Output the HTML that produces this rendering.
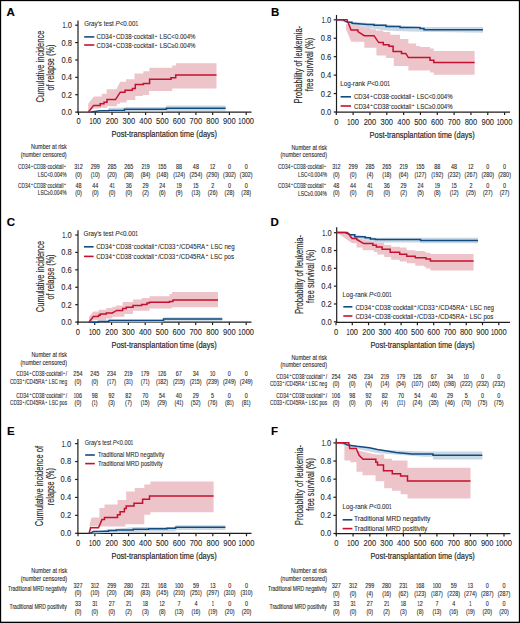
<!DOCTYPE html>
<html><head><meta charset="utf-8"><style>
html,body{margin:0;padding:0;background:#fff;}
svg{display:block;}
text{font-family:"Liberation Sans", sans-serif;}
</style></head><body>
<svg width="520" height="623" viewBox="0 0 520 623">
<rect x="0" y="0" width="520" height="623" fill="#fff"/>
<line x1="78.00" y1="20.40" x2="78.00" y2="112.80" stroke="#1e1e1e" stroke-width="1.2"/>
<line x1="77.40" y1="112.20" x2="251.50" y2="112.20" stroke="#1e1e1e" stroke-width="1.2"/>
<line x1="75.20" y1="112.10" x2="78.00" y2="112.10" stroke="#1e1e1e" stroke-width="1.2"/>
<g fill="#2a2a2a" stroke="#2a2a2a" stroke-width="0.1"><text x="61.49" y="115.04" font-size="8.40" textLength="10.51" lengthAdjust="spacingAndGlyphs" xml:space="preserve" style="">0.0</text></g>
<line x1="75.20" y1="94.72" x2="78.00" y2="94.72" stroke="#1e1e1e" stroke-width="1.2"/>
<g fill="#2a2a2a" stroke="#2a2a2a" stroke-width="0.1"><text x="61.49" y="97.66" font-size="8.40" textLength="10.51" lengthAdjust="spacingAndGlyphs" xml:space="preserve" style="">0.2</text></g>
<line x1="75.20" y1="77.34" x2="78.00" y2="77.34" stroke="#1e1e1e" stroke-width="1.2"/>
<g fill="#2a2a2a" stroke="#2a2a2a" stroke-width="0.1"><text x="61.49" y="80.28" font-size="8.40" textLength="10.51" lengthAdjust="spacingAndGlyphs" xml:space="preserve" style="">0.4</text></g>
<line x1="75.20" y1="59.96" x2="78.00" y2="59.96" stroke="#1e1e1e" stroke-width="1.2"/>
<g fill="#2a2a2a" stroke="#2a2a2a" stroke-width="0.1"><text x="61.49" y="62.90" font-size="8.40" textLength="10.51" lengthAdjust="spacingAndGlyphs" xml:space="preserve" style="">0.6</text></g>
<line x1="75.20" y1="42.58" x2="78.00" y2="42.58" stroke="#1e1e1e" stroke-width="1.2"/>
<g fill="#2a2a2a" stroke="#2a2a2a" stroke-width="0.1"><text x="61.49" y="45.52" font-size="8.40" textLength="10.51" lengthAdjust="spacingAndGlyphs" xml:space="preserve" style="">0.8</text></g>
<line x1="75.20" y1="25.20" x2="78.00" y2="25.20" stroke="#1e1e1e" stroke-width="1.2"/>
<g fill="#2a2a2a" stroke="#2a2a2a" stroke-width="0.1"><text x="62.54" y="28.14" font-size="8.40" textLength="3.15" lengthAdjust="spacingAndGlyphs" xml:space="preserve" style="">1</text><text x="65.70" y="28.14" font-size="8.40" textLength="6.30" lengthAdjust="spacingAndGlyphs" xml:space="preserve" style="">.0</text></g>
<line x1="78.50" y1="112.20" x2="78.50" y2="115.00" stroke="#1e1e1e" stroke-width="1.2"/>
<g fill="#2a2a2a" stroke="#2a2a2a" stroke-width="0.1"><text x="76.40" y="123.60" font-size="8.40" textLength="4.20" lengthAdjust="spacingAndGlyphs" xml:space="preserve" style="">0</text></g>
<line x1="95.27" y1="112.20" x2="95.27" y2="115.00" stroke="#1e1e1e" stroke-width="1.2"/>
<g fill="#2a2a2a" stroke="#2a2a2a" stroke-width="0.1"><text x="89.49" y="123.60" font-size="8.40" textLength="3.15" lengthAdjust="spacingAndGlyphs" xml:space="preserve" style="">1</text><text x="92.64" y="123.60" font-size="8.40" textLength="8.41" lengthAdjust="spacingAndGlyphs" xml:space="preserve" style="">00</text></g>
<line x1="112.04" y1="112.20" x2="112.04" y2="115.00" stroke="#1e1e1e" stroke-width="1.2"/>
<g fill="#2a2a2a" stroke="#2a2a2a" stroke-width="0.1"><text x="105.73" y="123.60" font-size="8.40" textLength="12.61" lengthAdjust="spacingAndGlyphs" xml:space="preserve" style="">200</text></g>
<line x1="128.81" y1="112.20" x2="128.81" y2="115.00" stroke="#1e1e1e" stroke-width="1.2"/>
<g fill="#2a2a2a" stroke="#2a2a2a" stroke-width="0.1"><text x="122.50" y="123.60" font-size="8.40" textLength="12.61" lengthAdjust="spacingAndGlyphs" xml:space="preserve" style="">300</text></g>
<line x1="145.58" y1="112.20" x2="145.58" y2="115.00" stroke="#1e1e1e" stroke-width="1.2"/>
<g fill="#2a2a2a" stroke="#2a2a2a" stroke-width="0.1"><text x="139.27" y="123.60" font-size="8.40" textLength="12.61" lengthAdjust="spacingAndGlyphs" xml:space="preserve" style="">400</text></g>
<line x1="162.35" y1="112.20" x2="162.35" y2="115.00" stroke="#1e1e1e" stroke-width="1.2"/>
<g fill="#2a2a2a" stroke="#2a2a2a" stroke-width="0.1"><text x="156.04" y="123.60" font-size="8.40" textLength="12.61" lengthAdjust="spacingAndGlyphs" xml:space="preserve" style="">500</text></g>
<line x1="179.12" y1="112.20" x2="179.12" y2="115.00" stroke="#1e1e1e" stroke-width="1.2"/>
<g fill="#2a2a2a" stroke="#2a2a2a" stroke-width="0.1"><text x="172.81" y="123.60" font-size="8.40" textLength="12.61" lengthAdjust="spacingAndGlyphs" xml:space="preserve" style="">600</text></g>
<line x1="195.89" y1="112.20" x2="195.89" y2="115.00" stroke="#1e1e1e" stroke-width="1.2"/>
<g fill="#2a2a2a" stroke="#2a2a2a" stroke-width="0.1"><text x="189.58" y="123.60" font-size="8.40" textLength="12.61" lengthAdjust="spacingAndGlyphs" xml:space="preserve" style="">700</text></g>
<line x1="212.66" y1="112.20" x2="212.66" y2="115.00" stroke="#1e1e1e" stroke-width="1.2"/>
<g fill="#2a2a2a" stroke="#2a2a2a" stroke-width="0.1"><text x="206.35" y="123.60" font-size="8.40" textLength="12.61" lengthAdjust="spacingAndGlyphs" xml:space="preserve" style="">800</text></g>
<line x1="229.43" y1="112.20" x2="229.43" y2="115.00" stroke="#1e1e1e" stroke-width="1.2"/>
<g fill="#2a2a2a" stroke="#2a2a2a" stroke-width="0.1"><text x="223.12" y="123.60" font-size="8.40" textLength="12.61" lengthAdjust="spacingAndGlyphs" xml:space="preserve" style="">900</text></g>
<line x1="246.20" y1="112.20" x2="246.20" y2="115.00" stroke="#1e1e1e" stroke-width="1.2"/>
<g fill="#2a2a2a" stroke="#2a2a2a" stroke-width="0.1"><text x="238.32" y="123.60" font-size="8.40" textLength="3.15" lengthAdjust="spacingAndGlyphs" xml:space="preserve" style="">1</text><text x="241.47" y="123.60" font-size="8.40" textLength="12.61" lengthAdjust="spacingAndGlyphs" xml:space="preserve" style="">000</text></g>
<g fill="#000" stroke="#000" stroke-width="0.15" font-weight="bold"><text x="6.60" y="16.30" font-size="11.50" textLength="8.30" lengthAdjust="spacingAndGlyphs" xml:space="preserve" style="">A</text></g>
<g fill="#2a2a2a" stroke="#2a2a2a" stroke-width="0.15" transform="translate(43.70,66.50) rotate(-90)"><text x="-36.00" y="0.00" font-size="10.40" textLength="72.00" lengthAdjust="spacingAndGlyphs" xml:space="preserve">Cumulative incidence</text></g>
<g fill="#2a2a2a" stroke="#2a2a2a" stroke-width="0.15" transform="translate(54.00,67.50) rotate(-90)"><text x="-23.00" y="0.00" font-size="10.40" textLength="46.00" lengthAdjust="spacingAndGlyphs" xml:space="preserve">of relapse (%)</text></g>
<g fill="#2a2a2a" stroke="#2a2a2a" stroke-width="0.2"><text x="111.50" y="136.80" font-size="9.00" textLength="105.50" lengthAdjust="spacingAndGlyphs" xml:space="preserve" style="">Post-transplantation time (days)</text></g>
<path d="M88.20,111.80 L88.20,103.80 L94.00,96.50 L101.70,96.50 L101.70,93.80 L106.70,93.80 L106.70,89.20 L116.30,89.20 L116.30,89.20 L120.20,81.80 L126.00,81.80 L126.00,79.30 L134.50,79.30 L134.50,73.60 L143.40,73.60 L143.40,71.30 L149.40,71.30 L149.40,67.80 L172.20,67.80 L172.20,65.50 L176.00,65.50 L176.00,63.20 L216.50,63.20 L216.50,63.20 L216.50,88.60 L216.50,88.60 L172.20,88.60 L172.20,90.90 L149.10,90.90 L149.10,94.90 L142.80,94.90 L142.80,96.00 L135.30,96.00 L135.30,100.10 L126.70,100.10 L126.70,102.40 L120.00,102.40 L120.00,103.80 L117.00,103.80 L117.00,106.20 L107.00,106.20 L107.00,107.70 L100.50,107.70 L100.50,108.50 L94.00,108.50 L88.20,111.80 Z" fill="#edc4ca" stroke="none"/>
<path d="M90.80,112.00 L100.00,110.20 L108.60,110.20 L108.60,107.80 L124.40,107.80 L124.40,107.00 L166.40,107.00 L166.40,105.60 L225.60,105.60 L225.60,105.60 L225.60,110.60 L225.60,110.80 L166.40,110.80 L166.40,111.60 L124.40,111.60 L124.40,112.00 L90.80,112.00 Z" fill="#c8d8e5" stroke="none"/>
<path d="M90.80,112.00 L100.00,110.80 H108.60 V110.40 H124.40 V109.20 H166.40 V108.30 H225.60 V108.30" fill="none" stroke="#124b80" stroke-width="1.5" stroke-linejoin="miter"/>
<path d="M88.30,112.20 L93.60,105.40 H100.20 V103.80 H104.00 V102.30 H107.00 V99.60 H115.50 V99.60 L120.30,92.20 H125.00 V90.30 H132.40 V88.60 H135.30 V84.50 H143.40 V83.40 H149.60 V79.20 H171.00 V77.80 H175.70 V75.00 H216.50 V75.00" fill="none" stroke="#c5112f" stroke-width="1.5" stroke-linejoin="miter"/>
<g fill="#2a2a2a" stroke="#2a2a2a" stroke-width="0.08"><text x="84.20" y="26.20" font-size="6.40" textLength="31.29" lengthAdjust="spacingAndGlyphs" xml:space="preserve" style="">Gray's test </text><text x="115.49" y="26.20" font-size="6.40" textLength="4.15" lengthAdjust="spacingAndGlyphs" xml:space="preserve" style="font-style:italic;">P</text><text x="119.65" y="26.20" font-size="6.40" textLength="15.76" lengthAdjust="spacingAndGlyphs" xml:space="preserve" style="">&lt;0.00</text><text x="135.40" y="26.20" font-size="6.40" textLength="2.60" lengthAdjust="spacingAndGlyphs" xml:space="preserve" style="">1</text></g>
<line x1="84.20" y1="36.90" x2="94.30" y2="36.90" stroke="#124b80" stroke-width="1.6"/>
<g fill="#2a2a2a" stroke="#2a2a2a" stroke-width="0.08"><text x="96.60" y="39.40" font-size="6.40" textLength="15.53" lengthAdjust="spacingAndGlyphs" xml:space="preserve" style="">CD34</text><text x="112.86" y="36.84" font-size="4.35" textLength="2.41" lengthAdjust="spacingAndGlyphs" xml:space="preserve" style="">+</text><text x="115.99" y="39.40" font-size="6.40" textLength="15.53" lengthAdjust="spacingAndGlyphs" xml:space="preserve" style="">CD38</text><text x="131.94" y="36.84" font-size="4.35" textLength="1.38" lengthAdjust="spacingAndGlyphs" xml:space="preserve" style="">-</text><text x="133.72" y="39.40" font-size="6.40" textLength="20.26" lengthAdjust="spacingAndGlyphs" xml:space="preserve" style="">cocktail</text><text x="154.71" y="36.84" font-size="4.35" textLength="2.41" lengthAdjust="spacingAndGlyphs" xml:space="preserve" style="">+</text><text x="157.84" y="39.40" font-size="6.40" textLength="37.66" lengthAdjust="spacingAndGlyphs" xml:space="preserve" style=""> LSC&lt;0.004%</text></g>
<line x1="84.20" y1="45.00" x2="94.30" y2="45.00" stroke="#c5112f" stroke-width="1.6"/>
<g fill="#2a2a2a" stroke="#2a2a2a" stroke-width="0.08"><text x="96.60" y="48.40" font-size="6.40" textLength="15.57" lengthAdjust="spacingAndGlyphs" xml:space="preserve" style="">CD34</text><text x="112.89" y="45.84" font-size="4.35" textLength="2.42" lengthAdjust="spacingAndGlyphs" xml:space="preserve" style="">+</text><text x="116.03" y="48.40" font-size="6.40" textLength="15.57" lengthAdjust="spacingAndGlyphs" xml:space="preserve" style="">CD38</text><text x="132.01" y="45.84" font-size="4.35" textLength="1.38" lengthAdjust="spacingAndGlyphs" xml:space="preserve" style="">-</text><text x="133.81" y="48.40" font-size="6.40" textLength="20.30" lengthAdjust="spacingAndGlyphs" xml:space="preserve" style="">cocktail</text><text x="154.83" y="45.84" font-size="4.35" textLength="2.42" lengthAdjust="spacingAndGlyphs" xml:space="preserve" style="">+</text><text x="157.97" y="48.40" font-size="6.40" textLength="37.53" lengthAdjust="spacingAndGlyphs" xml:space="preserve" style=""> LSC≥0.004%</text></g>
<g fill="#2a2a2a" stroke="#2a2a2a" stroke-width="0.1"><text x="31.10" y="149.30" font-size="6.40" textLength="35.60" lengthAdjust="spacingAndGlyphs" xml:space="preserve" style="">Number at risk</text></g>
<g fill="#2a2a2a" stroke="#2a2a2a" stroke-width="0.1"><text x="20.70" y="156.60" font-size="6.40" textLength="46.00" lengthAdjust="spacingAndGlyphs" xml:space="preserve" style="">(number censored)</text></g>
<g fill="#2a2a2a" stroke="#2a2a2a" stroke-width="0.1"><text x="18.10" y="169.20" font-size="6.40" textLength="12.27" lengthAdjust="spacingAndGlyphs" xml:space="preserve" style="">CD34</text><text x="30.95" y="166.64" font-size="4.35" textLength="1.91" lengthAdjust="spacingAndGlyphs" xml:space="preserve" style="">+</text><text x="33.43" y="169.20" font-size="6.40" textLength="12.27" lengthAdjust="spacingAndGlyphs" xml:space="preserve" style="">CD38</text><text x="46.03" y="166.64" font-size="4.35" textLength="1.09" lengthAdjust="spacingAndGlyphs" xml:space="preserve" style="">-</text><text x="47.44" y="169.20" font-size="6.40" textLength="16.01" lengthAdjust="spacingAndGlyphs" xml:space="preserve" style="">cocktail</text><text x="64.02" y="166.64" font-size="4.35" textLength="1.91" lengthAdjust="spacingAndGlyphs" xml:space="preserve" style="">+</text></g>
<g fill="#2a2a2a" stroke="#2a2a2a" stroke-width="0.1"><text x="37.70" y="176.60" font-size="6.40" textLength="29.00" lengthAdjust="spacingAndGlyphs" xml:space="preserve" style="">LSC&lt;0.004%</text></g>
<g fill="#2a2a2a" stroke="#2a2a2a" stroke-width="0.1"><text x="18.10" y="187.70" font-size="6.40" textLength="12.27" lengthAdjust="spacingAndGlyphs" xml:space="preserve" style="">CD34</text><text x="30.95" y="185.14" font-size="4.35" textLength="1.91" lengthAdjust="spacingAndGlyphs" xml:space="preserve" style="">+</text><text x="33.43" y="187.70" font-size="6.40" textLength="12.27" lengthAdjust="spacingAndGlyphs" xml:space="preserve" style="">CD38</text><text x="46.03" y="185.14" font-size="4.35" textLength="1.09" lengthAdjust="spacingAndGlyphs" xml:space="preserve" style="">-</text><text x="47.44" y="187.70" font-size="6.40" textLength="16.01" lengthAdjust="spacingAndGlyphs" xml:space="preserve" style="">cocktail</text><text x="64.02" y="185.14" font-size="4.35" textLength="1.91" lengthAdjust="spacingAndGlyphs" xml:space="preserve" style="">+</text></g>
<g fill="#2a2a2a" stroke="#2a2a2a" stroke-width="0.1"><text x="37.70" y="195.20" font-size="6.40" textLength="29.00" lengthAdjust="spacingAndGlyphs" xml:space="preserve" style="">LSC≥0.004%</text></g>
<g fill="#2a2a2a" stroke="#2a2a2a" stroke-width="0.1"><text x="74.34" y="169.20" font-size="6.40" textLength="3.03" lengthAdjust="spacingAndGlyphs" xml:space="preserve" style="">3</text><text x="77.37" y="169.20" font-size="6.40" textLength="2.27" lengthAdjust="spacingAndGlyphs" xml:space="preserve" style="">1</text><text x="79.63" y="169.20" font-size="6.40" textLength="3.03" lengthAdjust="spacingAndGlyphs" xml:space="preserve" style="">2</text></g>
<g fill="#2a2a2a" stroke="#2a2a2a" stroke-width="0.1"><text x="90.73" y="169.20" font-size="6.40" textLength="9.08" lengthAdjust="spacingAndGlyphs" xml:space="preserve" style="">299</text></g>
<g fill="#2a2a2a" stroke="#2a2a2a" stroke-width="0.1"><text x="107.50" y="169.20" font-size="6.40" textLength="9.08" lengthAdjust="spacingAndGlyphs" xml:space="preserve" style="">285</text></g>
<g fill="#2a2a2a" stroke="#2a2a2a" stroke-width="0.1"><text x="124.27" y="169.20" font-size="6.40" textLength="9.08" lengthAdjust="spacingAndGlyphs" xml:space="preserve" style="">265</text></g>
<g fill="#2a2a2a" stroke="#2a2a2a" stroke-width="0.1"><text x="141.42" y="169.20" font-size="6.40" textLength="3.03" lengthAdjust="spacingAndGlyphs" xml:space="preserve" style="">2</text><text x="144.45" y="169.20" font-size="6.40" textLength="2.27" lengthAdjust="spacingAndGlyphs" xml:space="preserve" style="">1</text><text x="146.71" y="169.20" font-size="6.40" textLength="3.03" lengthAdjust="spacingAndGlyphs" xml:space="preserve" style="">9</text></g>
<g fill="#2a2a2a" stroke="#2a2a2a" stroke-width="0.1"><text x="158.19" y="169.20" font-size="6.40" textLength="2.27" lengthAdjust="spacingAndGlyphs" xml:space="preserve" style="">1</text><text x="160.46" y="169.20" font-size="6.40" textLength="6.05" lengthAdjust="spacingAndGlyphs" xml:space="preserve" style="">55</text></g>
<g fill="#2a2a2a" stroke="#2a2a2a" stroke-width="0.1"><text x="176.09" y="169.20" font-size="6.40" textLength="6.05" lengthAdjust="spacingAndGlyphs" xml:space="preserve" style="">88</text></g>
<g fill="#2a2a2a" stroke="#2a2a2a" stroke-width="0.1"><text x="192.86" y="169.20" font-size="6.40" textLength="6.05" lengthAdjust="spacingAndGlyphs" xml:space="preserve" style="">48</text></g>
<g fill="#2a2a2a" stroke="#2a2a2a" stroke-width="0.1"><text x="210.01" y="169.20" font-size="6.40" textLength="2.27" lengthAdjust="spacingAndGlyphs" xml:space="preserve" style="">1</text><text x="212.28" y="169.20" font-size="6.40" textLength="3.03" lengthAdjust="spacingAndGlyphs" xml:space="preserve" style="">2</text></g>
<g fill="#2a2a2a" stroke="#2a2a2a" stroke-width="0.1"><text x="227.92" y="169.20" font-size="6.40" textLength="3.03" lengthAdjust="spacingAndGlyphs" xml:space="preserve" style="">0</text></g>
<g fill="#2a2a2a" stroke="#2a2a2a" stroke-width="0.1"><text x="244.69" y="169.20" font-size="6.40" textLength="3.03" lengthAdjust="spacingAndGlyphs" xml:space="preserve" style="">0</text></g>
<g fill="#2a2a2a" stroke="#2a2a2a" stroke-width="0.1"><text x="75.18" y="176.50" font-size="6.40" textLength="6.65" lengthAdjust="spacingAndGlyphs" xml:space="preserve" style="">(0)</text></g>
<g fill="#2a2a2a" stroke="#2a2a2a" stroke-width="0.1"><text x="90.81" y="176.50" font-size="6.40" textLength="1.81" lengthAdjust="spacingAndGlyphs" xml:space="preserve" style="">(</text><text x="92.62" y="176.50" font-size="6.40" textLength="2.27" lengthAdjust="spacingAndGlyphs" xml:space="preserve" style="">1</text><text x="94.89" y="176.50" font-size="6.40" textLength="4.84" lengthAdjust="spacingAndGlyphs" xml:space="preserve" style="">0)</text></g>
<g fill="#2a2a2a" stroke="#2a2a2a" stroke-width="0.1"><text x="107.20" y="176.50" font-size="6.40" textLength="9.67" lengthAdjust="spacingAndGlyphs" xml:space="preserve" style="">(20)</text></g>
<g fill="#2a2a2a" stroke="#2a2a2a" stroke-width="0.1"><text x="123.97" y="176.50" font-size="6.40" textLength="9.67" lengthAdjust="spacingAndGlyphs" xml:space="preserve" style="">(38)</text></g>
<g fill="#2a2a2a" stroke="#2a2a2a" stroke-width="0.1"><text x="140.74" y="176.50" font-size="6.40" textLength="9.67" lengthAdjust="spacingAndGlyphs" xml:space="preserve" style="">(84)</text></g>
<g fill="#2a2a2a" stroke="#2a2a2a" stroke-width="0.1"><text x="156.38" y="176.50" font-size="6.40" textLength="1.81" lengthAdjust="spacingAndGlyphs" xml:space="preserve" style="">(</text><text x="158.19" y="176.50" font-size="6.40" textLength="2.27" lengthAdjust="spacingAndGlyphs" xml:space="preserve" style="">1</text><text x="160.46" y="176.50" font-size="6.40" textLength="7.86" lengthAdjust="spacingAndGlyphs" xml:space="preserve" style="">48)</text></g>
<g fill="#2a2a2a" stroke="#2a2a2a" stroke-width="0.1"><text x="173.15" y="176.50" font-size="6.40" textLength="1.81" lengthAdjust="spacingAndGlyphs" xml:space="preserve" style="">(</text><text x="174.96" y="176.50" font-size="6.40" textLength="2.27" lengthAdjust="spacingAndGlyphs" xml:space="preserve" style="">1</text><text x="177.23" y="176.50" font-size="6.40" textLength="7.86" lengthAdjust="spacingAndGlyphs" xml:space="preserve" style="">24)</text></g>
<g fill="#2a2a2a" stroke="#2a2a2a" stroke-width="0.1"><text x="189.54" y="176.50" font-size="6.40" textLength="12.70" lengthAdjust="spacingAndGlyphs" xml:space="preserve" style="">(254)</text></g>
<g fill="#2a2a2a" stroke="#2a2a2a" stroke-width="0.1"><text x="206.31" y="176.50" font-size="6.40" textLength="12.70" lengthAdjust="spacingAndGlyphs" xml:space="preserve" style="">(290)</text></g>
<g fill="#2a2a2a" stroke="#2a2a2a" stroke-width="0.1"><text x="223.08" y="176.50" font-size="6.40" textLength="12.70" lengthAdjust="spacingAndGlyphs" xml:space="preserve" style="">(302)</text></g>
<g fill="#2a2a2a" stroke="#2a2a2a" stroke-width="0.1"><text x="239.85" y="176.50" font-size="6.40" textLength="12.70" lengthAdjust="spacingAndGlyphs" xml:space="preserve" style="">(302)</text></g>
<g fill="#2a2a2a" stroke="#2a2a2a" stroke-width="0.1"><text x="75.47" y="187.70" font-size="6.40" textLength="6.05" lengthAdjust="spacingAndGlyphs" xml:space="preserve" style="">48</text></g>
<g fill="#2a2a2a" stroke="#2a2a2a" stroke-width="0.1"><text x="92.24" y="187.70" font-size="6.40" textLength="6.05" lengthAdjust="spacingAndGlyphs" xml:space="preserve" style="">44</text></g>
<g fill="#2a2a2a" stroke="#2a2a2a" stroke-width="0.1"><text x="109.39" y="187.70" font-size="6.40" textLength="3.03" lengthAdjust="spacingAndGlyphs" xml:space="preserve" style="">4</text><text x="112.42" y="187.70" font-size="6.40" textLength="2.27" lengthAdjust="spacingAndGlyphs" xml:space="preserve" style="">1</text></g>
<g fill="#2a2a2a" stroke="#2a2a2a" stroke-width="0.1"><text x="125.78" y="187.70" font-size="6.40" textLength="6.05" lengthAdjust="spacingAndGlyphs" xml:space="preserve" style="">36</text></g>
<g fill="#2a2a2a" stroke="#2a2a2a" stroke-width="0.1"><text x="142.55" y="187.70" font-size="6.40" textLength="6.05" lengthAdjust="spacingAndGlyphs" xml:space="preserve" style="">29</text></g>
<g fill="#2a2a2a" stroke="#2a2a2a" stroke-width="0.1"><text x="159.32" y="187.70" font-size="6.40" textLength="6.05" lengthAdjust="spacingAndGlyphs" xml:space="preserve" style="">24</text></g>
<g fill="#2a2a2a" stroke="#2a2a2a" stroke-width="0.1"><text x="176.47" y="187.70" font-size="6.40" textLength="2.27" lengthAdjust="spacingAndGlyphs" xml:space="preserve" style="">1</text><text x="178.74" y="187.70" font-size="6.40" textLength="3.03" lengthAdjust="spacingAndGlyphs" xml:space="preserve" style="">9</text></g>
<g fill="#2a2a2a" stroke="#2a2a2a" stroke-width="0.1"><text x="193.24" y="187.70" font-size="6.40" textLength="2.27" lengthAdjust="spacingAndGlyphs" xml:space="preserve" style="">1</text><text x="195.51" y="187.70" font-size="6.40" textLength="3.03" lengthAdjust="spacingAndGlyphs" xml:space="preserve" style="">5</text></g>
<g fill="#2a2a2a" stroke="#2a2a2a" stroke-width="0.1"><text x="211.15" y="187.70" font-size="6.40" textLength="3.03" lengthAdjust="spacingAndGlyphs" xml:space="preserve" style="">2</text></g>
<g fill="#2a2a2a" stroke="#2a2a2a" stroke-width="0.1"><text x="227.92" y="187.70" font-size="6.40" textLength="3.03" lengthAdjust="spacingAndGlyphs" xml:space="preserve" style="">0</text></g>
<g fill="#2a2a2a" stroke="#2a2a2a" stroke-width="0.1"><text x="244.69" y="187.70" font-size="6.40" textLength="3.03" lengthAdjust="spacingAndGlyphs" xml:space="preserve" style="">0</text></g>
<g fill="#2a2a2a" stroke="#2a2a2a" stroke-width="0.1"><text x="75.18" y="195.00" font-size="6.40" textLength="6.65" lengthAdjust="spacingAndGlyphs" xml:space="preserve" style="">(0)</text></g>
<g fill="#2a2a2a" stroke="#2a2a2a" stroke-width="0.1"><text x="91.95" y="195.00" font-size="6.40" textLength="6.65" lengthAdjust="spacingAndGlyphs" xml:space="preserve" style="">(0)</text></g>
<g fill="#2a2a2a" stroke="#2a2a2a" stroke-width="0.1"><text x="108.72" y="195.00" font-size="6.40" textLength="6.65" lengthAdjust="spacingAndGlyphs" xml:space="preserve" style="">(0)</text></g>
<g fill="#2a2a2a" stroke="#2a2a2a" stroke-width="0.1"><text x="125.49" y="195.00" font-size="6.40" textLength="6.65" lengthAdjust="spacingAndGlyphs" xml:space="preserve" style="">(0)</text></g>
<g fill="#2a2a2a" stroke="#2a2a2a" stroke-width="0.1"><text x="142.26" y="195.00" font-size="6.40" textLength="6.65" lengthAdjust="spacingAndGlyphs" xml:space="preserve" style="">(2)</text></g>
<g fill="#2a2a2a" stroke="#2a2a2a" stroke-width="0.1"><text x="159.03" y="195.00" font-size="6.40" textLength="6.65" lengthAdjust="spacingAndGlyphs" xml:space="preserve" style="">(6)</text></g>
<g fill="#2a2a2a" stroke="#2a2a2a" stroke-width="0.1"><text x="175.80" y="195.00" font-size="6.40" textLength="6.65" lengthAdjust="spacingAndGlyphs" xml:space="preserve" style="">(9)</text></g>
<g fill="#2a2a2a" stroke="#2a2a2a" stroke-width="0.1"><text x="191.43" y="195.00" font-size="6.40" textLength="1.81" lengthAdjust="spacingAndGlyphs" xml:space="preserve" style="">(</text><text x="193.24" y="195.00" font-size="6.40" textLength="2.27" lengthAdjust="spacingAndGlyphs" xml:space="preserve" style="">1</text><text x="195.51" y="195.00" font-size="6.40" textLength="4.84" lengthAdjust="spacingAndGlyphs" xml:space="preserve" style="">3)</text></g>
<g fill="#2a2a2a" stroke="#2a2a2a" stroke-width="0.1"><text x="207.82" y="195.00" font-size="6.40" textLength="9.67" lengthAdjust="spacingAndGlyphs" xml:space="preserve" style="">(26)</text></g>
<g fill="#2a2a2a" stroke="#2a2a2a" stroke-width="0.1"><text x="224.59" y="195.00" font-size="6.40" textLength="9.67" lengthAdjust="spacingAndGlyphs" xml:space="preserve" style="">(28)</text></g>
<g fill="#2a2a2a" stroke="#2a2a2a" stroke-width="0.1"><text x="241.36" y="195.00" font-size="6.40" textLength="9.67" lengthAdjust="spacingAndGlyphs" xml:space="preserve" style="">(28)</text></g>
<line x1="336.50" y1="15.00" x2="336.50" y2="112.80" stroke="#1e1e1e" stroke-width="1.2"/>
<line x1="335.90" y1="112.20" x2="510.00" y2="112.20" stroke="#1e1e1e" stroke-width="1.2"/>
<line x1="333.70" y1="112.00" x2="336.50" y2="112.00" stroke="#1e1e1e" stroke-width="1.2"/>
<g fill="#2a2a2a" stroke="#2a2a2a" stroke-width="0.1"><text x="320.79" y="114.94" font-size="8.40" textLength="10.51" lengthAdjust="spacingAndGlyphs" xml:space="preserve" style="">0.0</text></g>
<line x1="333.70" y1="93.56" x2="336.50" y2="93.56" stroke="#1e1e1e" stroke-width="1.2"/>
<g fill="#2a2a2a" stroke="#2a2a2a" stroke-width="0.1"><text x="320.79" y="96.50" font-size="8.40" textLength="10.51" lengthAdjust="spacingAndGlyphs" xml:space="preserve" style="">0.2</text></g>
<line x1="333.70" y1="75.12" x2="336.50" y2="75.12" stroke="#1e1e1e" stroke-width="1.2"/>
<g fill="#2a2a2a" stroke="#2a2a2a" stroke-width="0.1"><text x="320.79" y="78.06" font-size="8.40" textLength="10.51" lengthAdjust="spacingAndGlyphs" xml:space="preserve" style="">0.4</text></g>
<line x1="333.70" y1="56.68" x2="336.50" y2="56.68" stroke="#1e1e1e" stroke-width="1.2"/>
<g fill="#2a2a2a" stroke="#2a2a2a" stroke-width="0.1"><text x="320.79" y="59.62" font-size="8.40" textLength="10.51" lengthAdjust="spacingAndGlyphs" xml:space="preserve" style="">0.6</text></g>
<line x1="333.70" y1="38.24" x2="336.50" y2="38.24" stroke="#1e1e1e" stroke-width="1.2"/>
<g fill="#2a2a2a" stroke="#2a2a2a" stroke-width="0.1"><text x="320.79" y="41.18" font-size="8.40" textLength="10.51" lengthAdjust="spacingAndGlyphs" xml:space="preserve" style="">0.8</text></g>
<line x1="333.70" y1="19.80" x2="336.50" y2="19.80" stroke="#1e1e1e" stroke-width="1.2"/>
<g fill="#2a2a2a" stroke="#2a2a2a" stroke-width="0.1"><text x="321.84" y="22.74" font-size="8.40" textLength="3.15" lengthAdjust="spacingAndGlyphs" xml:space="preserve" style="">1</text><text x="325.00" y="22.74" font-size="8.40" textLength="6.30" lengthAdjust="spacingAndGlyphs" xml:space="preserve" style="">.0</text></g>
<line x1="336.30" y1="112.20" x2="336.30" y2="115.00" stroke="#1e1e1e" stroke-width="1.2"/>
<g fill="#2a2a2a" stroke="#2a2a2a" stroke-width="0.1"><text x="334.20" y="124.90" font-size="8.40" textLength="4.20" lengthAdjust="spacingAndGlyphs" xml:space="preserve" style="">0</text></g>
<line x1="353.13" y1="112.20" x2="353.13" y2="115.00" stroke="#1e1e1e" stroke-width="1.2"/>
<g fill="#2a2a2a" stroke="#2a2a2a" stroke-width="0.1"><text x="347.35" y="124.90" font-size="8.40" textLength="3.15" lengthAdjust="spacingAndGlyphs" xml:space="preserve" style="">1</text><text x="350.50" y="124.90" font-size="8.40" textLength="8.41" lengthAdjust="spacingAndGlyphs" xml:space="preserve" style="">00</text></g>
<line x1="369.96" y1="112.20" x2="369.96" y2="115.00" stroke="#1e1e1e" stroke-width="1.2"/>
<g fill="#2a2a2a" stroke="#2a2a2a" stroke-width="0.1"><text x="363.65" y="124.90" font-size="8.40" textLength="12.61" lengthAdjust="spacingAndGlyphs" xml:space="preserve" style="">200</text></g>
<line x1="386.79" y1="112.20" x2="386.79" y2="115.00" stroke="#1e1e1e" stroke-width="1.2"/>
<g fill="#2a2a2a" stroke="#2a2a2a" stroke-width="0.1"><text x="380.48" y="124.90" font-size="8.40" textLength="12.61" lengthAdjust="spacingAndGlyphs" xml:space="preserve" style="">300</text></g>
<line x1="403.62" y1="112.20" x2="403.62" y2="115.00" stroke="#1e1e1e" stroke-width="1.2"/>
<g fill="#2a2a2a" stroke="#2a2a2a" stroke-width="0.1"><text x="397.31" y="124.90" font-size="8.40" textLength="12.61" lengthAdjust="spacingAndGlyphs" xml:space="preserve" style="">400</text></g>
<line x1="420.45" y1="112.20" x2="420.45" y2="115.00" stroke="#1e1e1e" stroke-width="1.2"/>
<g fill="#2a2a2a" stroke="#2a2a2a" stroke-width="0.1"><text x="414.14" y="124.90" font-size="8.40" textLength="12.61" lengthAdjust="spacingAndGlyphs" xml:space="preserve" style="">500</text></g>
<line x1="437.28" y1="112.20" x2="437.28" y2="115.00" stroke="#1e1e1e" stroke-width="1.2"/>
<g fill="#2a2a2a" stroke="#2a2a2a" stroke-width="0.1"><text x="430.97" y="124.90" font-size="8.40" textLength="12.61" lengthAdjust="spacingAndGlyphs" xml:space="preserve" style="">600</text></g>
<line x1="454.11" y1="112.20" x2="454.11" y2="115.00" stroke="#1e1e1e" stroke-width="1.2"/>
<g fill="#2a2a2a" stroke="#2a2a2a" stroke-width="0.1"><text x="447.80" y="124.90" font-size="8.40" textLength="12.61" lengthAdjust="spacingAndGlyphs" xml:space="preserve" style="">700</text></g>
<line x1="470.94" y1="112.20" x2="470.94" y2="115.00" stroke="#1e1e1e" stroke-width="1.2"/>
<g fill="#2a2a2a" stroke="#2a2a2a" stroke-width="0.1"><text x="464.63" y="124.90" font-size="8.40" textLength="12.61" lengthAdjust="spacingAndGlyphs" xml:space="preserve" style="">800</text></g>
<line x1="487.77" y1="112.20" x2="487.77" y2="115.00" stroke="#1e1e1e" stroke-width="1.2"/>
<g fill="#2a2a2a" stroke="#2a2a2a" stroke-width="0.1"><text x="481.46" y="124.90" font-size="8.40" textLength="12.61" lengthAdjust="spacingAndGlyphs" xml:space="preserve" style="">900</text></g>
<line x1="504.60" y1="112.20" x2="504.60" y2="115.00" stroke="#1e1e1e" stroke-width="1.2"/>
<g fill="#2a2a2a" stroke="#2a2a2a" stroke-width="0.1"><text x="496.72" y="124.90" font-size="8.40" textLength="3.15" lengthAdjust="spacingAndGlyphs" xml:space="preserve" style="">1</text><text x="499.87" y="124.90" font-size="8.40" textLength="12.61" lengthAdjust="spacingAndGlyphs" xml:space="preserve" style="">000</text></g>
<g fill="#000" stroke="#000" stroke-width="0.15" font-weight="bold"><text x="271.00" y="16.20" font-size="11.50" textLength="8.30" lengthAdjust="spacingAndGlyphs" xml:space="preserve" style="">B</text></g>
<g fill="#2a2a2a" stroke="#2a2a2a" stroke-width="0.15" transform="translate(302.20,64.70) rotate(-90)"><text x="-38.70" y="0.00" font-size="10.40" textLength="77.40" lengthAdjust="spacingAndGlyphs" xml:space="preserve">Probability of leukemia-</text></g>
<g fill="#2a2a2a" stroke="#2a2a2a" stroke-width="0.15" transform="translate(313.30,64.50) rotate(-90)"><text x="-26.65" y="0.00" font-size="10.40" textLength="53.30" lengthAdjust="spacingAndGlyphs" xml:space="preserve">free survival (%)</text></g>
<g fill="#2a2a2a" stroke="#2a2a2a" stroke-width="0.2"><text x="369.60" y="137.60" font-size="9.00" textLength="105.20" lengthAdjust="spacingAndGlyphs" xml:space="preserve" style="">Post-transplantation time (days)</text></g>
<path d="M336.50,19.70 L345.80,19.70 L345.80,24.10 L351.00,24.10 L351.00,24.10 L366.00,27.50 L370.60,27.50 L370.60,29.30 L375.80,29.30 L375.80,30.50 L383.30,30.50 L383.30,32.00 L390.20,32.00 L390.20,34.80 L400.00,34.80 L400.00,39.00 L408.40,39.00 L408.40,43.40 L416.00,43.40 L416.00,46.00 L420.00,46.00 L420.00,47.10 L430.00,47.10 L430.00,48.60 L433.80,48.60 L433.80,50.90 L474.60,50.90 L474.60,50.90 L474.60,74.80 L474.60,74.80 L433.80,74.80 L433.80,72.50 L430.00,72.50 L430.00,70.60 L408.40,70.60 L408.40,65.90 L393.70,65.90 L393.70,58.10 L386.00,58.10 L386.00,55.50 L376.40,55.50 L376.40,47.70 L364.30,47.70 L364.30,41.70 L351.30,41.70 L345.80,29.00 L345.80,19.70 L336.50,19.70 Z" fill="#edc4ca" stroke="none"/>
<path d="M336.50,19.70 L347.50,21.20 L374.00,23.50 L420.00,27.10 L483.00,27.10 L483.00,27.10 L483.00,32.80 L410.00,31.50 L386.00,30.50 L368.00,28.00 L352.00,24.70 L336.50,19.70 Z" fill="#c8d8e5" stroke="none"/>
<path d="M336.50,19.70 H342.60 V19.70 L347.50,22.30 H352.00 V23.20 L368.00,24.40 H374.00 V25.20 H386.00 V26.40 H400.00 V27.50 H420.00 V28.60 H424.00 V29.70 H483.00 V29.70" fill="none" stroke="#124b80" stroke-width="1.5" stroke-linejoin="miter"/>
<path d="M336.50,19.70 H347.00 V19.70 L351.00,30.10 H357.90 V31.60 L364.30,35.70 H374.00 V35.70 L378.70,42.60 H383.30 V44.80 H389.00 V46.20 H393.10 V51.60 H401.50 V53.40 H405.80 V53.40 L408.40,57.60 H430.00 V60.20 H433.80 V62.50 H474.60 V62.50" fill="none" stroke="#c5112f" stroke-width="1.5" stroke-linejoin="miter"/>
<g fill="#2a2a2a" stroke="#2a2a2a" stroke-width="0.08"><text x="340.20" y="85.90" font-size="6.40" textLength="26.73" lengthAdjust="spacingAndGlyphs" xml:space="preserve" style="">Log-rank </text><text x="366.93" y="85.90" font-size="6.40" textLength="4.22" lengthAdjust="spacingAndGlyphs" xml:space="preserve" style="font-style:italic;">P</text><text x="371.15" y="85.90" font-size="6.40" textLength="16.01" lengthAdjust="spacingAndGlyphs" xml:space="preserve" style="">&lt;0.00</text><text x="387.16" y="85.90" font-size="6.40" textLength="2.64" lengthAdjust="spacingAndGlyphs" xml:space="preserve" style="">1</text></g>
<line x1="340.60" y1="96.80" x2="351.00" y2="96.80" stroke="#124b80" stroke-width="1.6"/>
<g fill="#2a2a2a" stroke="#2a2a2a" stroke-width="0.08"><text x="354.00" y="99.30" font-size="6.40" textLength="15.48" lengthAdjust="spacingAndGlyphs" xml:space="preserve" style="">CD34</text><text x="370.21" y="96.74" font-size="4.35" textLength="2.41" lengthAdjust="spacingAndGlyphs" xml:space="preserve" style="">+</text><text x="373.33" y="99.30" font-size="6.40" textLength="15.48" lengthAdjust="spacingAndGlyphs" xml:space="preserve" style="">CD38</text><text x="389.23" y="96.74" font-size="4.35" textLength="1.37" lengthAdjust="spacingAndGlyphs" xml:space="preserve" style="">-</text><text x="391.01" y="99.30" font-size="6.40" textLength="20.20" lengthAdjust="spacingAndGlyphs" xml:space="preserve" style="">cocktail</text><text x="411.93" y="96.74" font-size="4.35" textLength="2.41" lengthAdjust="spacingAndGlyphs" xml:space="preserve" style="">+</text><text x="415.06" y="99.30" font-size="6.40" textLength="37.54" lengthAdjust="spacingAndGlyphs" xml:space="preserve" style=""> LSC&lt;0.004%</text></g>
<line x1="340.60" y1="106.00" x2="351.00" y2="106.00" stroke="#c5112f" stroke-width="1.6"/>
<g fill="#2a2a2a" stroke="#2a2a2a" stroke-width="0.08"><text x="354.00" y="108.80" font-size="6.40" textLength="15.52" lengthAdjust="spacingAndGlyphs" xml:space="preserve" style="">CD34</text><text x="370.24" y="106.24" font-size="4.35" textLength="2.41" lengthAdjust="spacingAndGlyphs" xml:space="preserve" style="">+</text><text x="373.37" y="108.80" font-size="6.40" textLength="15.52" lengthAdjust="spacingAndGlyphs" xml:space="preserve" style="">CD38</text><text x="389.31" y="106.24" font-size="4.35" textLength="1.37" lengthAdjust="spacingAndGlyphs" xml:space="preserve" style="">-</text><text x="391.09" y="108.80" font-size="6.40" textLength="20.24" lengthAdjust="spacingAndGlyphs" xml:space="preserve" style="">cocktail</text><text x="412.05" y="106.24" font-size="4.35" textLength="2.41" lengthAdjust="spacingAndGlyphs" xml:space="preserve" style="">+</text><text x="415.19" y="108.80" font-size="6.40" textLength="37.41" lengthAdjust="spacingAndGlyphs" xml:space="preserve" style=""> LSC≥0.004%</text></g>
<g fill="#2a2a2a" stroke="#2a2a2a" stroke-width="0.1"><text x="291.40" y="149.80" font-size="6.40" textLength="35.60" lengthAdjust="spacingAndGlyphs" xml:space="preserve" style="">Number at risk</text></g>
<g fill="#2a2a2a" stroke="#2a2a2a" stroke-width="0.1"><text x="280.50" y="157.00" font-size="6.40" textLength="46.50" lengthAdjust="spacingAndGlyphs" xml:space="preserve" style="">(number censored)</text></g>
<g fill="#2a2a2a" stroke="#2a2a2a" stroke-width="0.1"><text x="278.10" y="169.30" font-size="6.40" textLength="12.27" lengthAdjust="spacingAndGlyphs" xml:space="preserve" style="">CD34</text><text x="290.95" y="166.74" font-size="4.35" textLength="1.91" lengthAdjust="spacingAndGlyphs" xml:space="preserve" style="">+</text><text x="293.43" y="169.30" font-size="6.40" textLength="12.27" lengthAdjust="spacingAndGlyphs" xml:space="preserve" style="">CD38</text><text x="306.03" y="166.74" font-size="4.35" textLength="1.09" lengthAdjust="spacingAndGlyphs" xml:space="preserve" style="">-</text><text x="307.44" y="169.30" font-size="6.40" textLength="16.01" lengthAdjust="spacingAndGlyphs" xml:space="preserve" style="">cocktail</text><text x="324.02" y="166.74" font-size="4.35" textLength="1.91" lengthAdjust="spacingAndGlyphs" xml:space="preserve" style="">+</text></g>
<g fill="#2a2a2a" stroke="#2a2a2a" stroke-width="0.1"><text x="298.00" y="176.80" font-size="6.40" textLength="29.00" lengthAdjust="spacingAndGlyphs" xml:space="preserve" style="">LSC&lt;0.004%</text></g>
<g fill="#2a2a2a" stroke="#2a2a2a" stroke-width="0.1"><text x="278.10" y="188.00" font-size="6.40" textLength="12.27" lengthAdjust="spacingAndGlyphs" xml:space="preserve" style="">CD34</text><text x="290.95" y="185.44" font-size="4.35" textLength="1.91" lengthAdjust="spacingAndGlyphs" xml:space="preserve" style="">+</text><text x="293.43" y="188.00" font-size="6.40" textLength="12.27" lengthAdjust="spacingAndGlyphs" xml:space="preserve" style="">CD38</text><text x="306.03" y="185.44" font-size="4.35" textLength="1.09" lengthAdjust="spacingAndGlyphs" xml:space="preserve" style="">-</text><text x="307.44" y="188.00" font-size="6.40" textLength="16.01" lengthAdjust="spacingAndGlyphs" xml:space="preserve" style="">cocktail</text><text x="324.02" y="185.44" font-size="4.35" textLength="1.91" lengthAdjust="spacingAndGlyphs" xml:space="preserve" style="">+</text></g>
<g fill="#2a2a2a" stroke="#2a2a2a" stroke-width="0.1"><text x="298.00" y="195.50" font-size="6.40" textLength="29.00" lengthAdjust="spacingAndGlyphs" xml:space="preserve" style="">LSC≥0.004%</text></g>
<g fill="#2a2a2a" stroke="#2a2a2a" stroke-width="0.1"><text x="332.14" y="169.30" font-size="6.40" textLength="3.03" lengthAdjust="spacingAndGlyphs" xml:space="preserve" style="">3</text><text x="335.17" y="169.30" font-size="6.40" textLength="2.27" lengthAdjust="spacingAndGlyphs" xml:space="preserve" style="">1</text><text x="337.43" y="169.30" font-size="6.40" textLength="3.03" lengthAdjust="spacingAndGlyphs" xml:space="preserve" style="">2</text></g>
<g fill="#2a2a2a" stroke="#2a2a2a" stroke-width="0.1"><text x="348.59" y="169.30" font-size="6.40" textLength="9.08" lengthAdjust="spacingAndGlyphs" xml:space="preserve" style="">299</text></g>
<g fill="#2a2a2a" stroke="#2a2a2a" stroke-width="0.1"><text x="365.42" y="169.30" font-size="6.40" textLength="9.08" lengthAdjust="spacingAndGlyphs" xml:space="preserve" style="">285</text></g>
<g fill="#2a2a2a" stroke="#2a2a2a" stroke-width="0.1"><text x="382.25" y="169.30" font-size="6.40" textLength="9.08" lengthAdjust="spacingAndGlyphs" xml:space="preserve" style="">265</text></g>
<g fill="#2a2a2a" stroke="#2a2a2a" stroke-width="0.1"><text x="399.46" y="169.30" font-size="6.40" textLength="3.03" lengthAdjust="spacingAndGlyphs" xml:space="preserve" style="">2</text><text x="402.49" y="169.30" font-size="6.40" textLength="2.27" lengthAdjust="spacingAndGlyphs" xml:space="preserve" style="">1</text><text x="404.75" y="169.30" font-size="6.40" textLength="3.03" lengthAdjust="spacingAndGlyphs" xml:space="preserve" style="">9</text></g>
<g fill="#2a2a2a" stroke="#2a2a2a" stroke-width="0.1"><text x="416.29" y="169.30" font-size="6.40" textLength="2.27" lengthAdjust="spacingAndGlyphs" xml:space="preserve" style="">1</text><text x="418.56" y="169.30" font-size="6.40" textLength="6.05" lengthAdjust="spacingAndGlyphs" xml:space="preserve" style="">55</text></g>
<g fill="#2a2a2a" stroke="#2a2a2a" stroke-width="0.1"><text x="434.25" y="169.30" font-size="6.40" textLength="6.05" lengthAdjust="spacingAndGlyphs" xml:space="preserve" style="">88</text></g>
<g fill="#2a2a2a" stroke="#2a2a2a" stroke-width="0.1"><text x="451.08" y="169.30" font-size="6.40" textLength="6.05" lengthAdjust="spacingAndGlyphs" xml:space="preserve" style="">48</text></g>
<g fill="#2a2a2a" stroke="#2a2a2a" stroke-width="0.1"><text x="468.29" y="169.30" font-size="6.40" textLength="2.27" lengthAdjust="spacingAndGlyphs" xml:space="preserve" style="">1</text><text x="470.56" y="169.30" font-size="6.40" textLength="3.03" lengthAdjust="spacingAndGlyphs" xml:space="preserve" style="">2</text></g>
<g fill="#2a2a2a" stroke="#2a2a2a" stroke-width="0.1"><text x="486.26" y="169.30" font-size="6.40" textLength="3.03" lengthAdjust="spacingAndGlyphs" xml:space="preserve" style="">0</text></g>
<g fill="#2a2a2a" stroke="#2a2a2a" stroke-width="0.1"><text x="503.09" y="169.30" font-size="6.40" textLength="3.03" lengthAdjust="spacingAndGlyphs" xml:space="preserve" style="">0</text></g>
<g fill="#2a2a2a" stroke="#2a2a2a" stroke-width="0.1"><text x="332.98" y="176.60" font-size="6.40" textLength="6.65" lengthAdjust="spacingAndGlyphs" xml:space="preserve" style="">(0)</text></g>
<g fill="#2a2a2a" stroke="#2a2a2a" stroke-width="0.1"><text x="349.81" y="176.60" font-size="6.40" textLength="6.65" lengthAdjust="spacingAndGlyphs" xml:space="preserve" style="">(0)</text></g>
<g fill="#2a2a2a" stroke="#2a2a2a" stroke-width="0.1"><text x="366.64" y="176.60" font-size="6.40" textLength="6.65" lengthAdjust="spacingAndGlyphs" xml:space="preserve" style="">(4)</text></g>
<g fill="#2a2a2a" stroke="#2a2a2a" stroke-width="0.1"><text x="382.33" y="176.60" font-size="6.40" textLength="1.81" lengthAdjust="spacingAndGlyphs" xml:space="preserve" style="">(</text><text x="384.14" y="176.60" font-size="6.40" textLength="2.27" lengthAdjust="spacingAndGlyphs" xml:space="preserve" style="">1</text><text x="386.41" y="176.60" font-size="6.40" textLength="4.84" lengthAdjust="spacingAndGlyphs" xml:space="preserve" style="">8)</text></g>
<g fill="#2a2a2a" stroke="#2a2a2a" stroke-width="0.1"><text x="398.78" y="176.60" font-size="6.40" textLength="9.67" lengthAdjust="spacingAndGlyphs" xml:space="preserve" style="">(64)</text></g>
<g fill="#2a2a2a" stroke="#2a2a2a" stroke-width="0.1"><text x="414.48" y="176.60" font-size="6.40" textLength="1.81" lengthAdjust="spacingAndGlyphs" xml:space="preserve" style="">(</text><text x="416.29" y="176.60" font-size="6.40" textLength="2.27" lengthAdjust="spacingAndGlyphs" xml:space="preserve" style="">1</text><text x="418.56" y="176.60" font-size="6.40" textLength="7.86" lengthAdjust="spacingAndGlyphs" xml:space="preserve" style="">27)</text></g>
<g fill="#2a2a2a" stroke="#2a2a2a" stroke-width="0.1"><text x="431.31" y="176.60" font-size="6.40" textLength="1.81" lengthAdjust="spacingAndGlyphs" xml:space="preserve" style="">(</text><text x="433.12" y="176.60" font-size="6.40" textLength="2.27" lengthAdjust="spacingAndGlyphs" xml:space="preserve" style="">1</text><text x="435.39" y="176.60" font-size="6.40" textLength="7.86" lengthAdjust="spacingAndGlyphs" xml:space="preserve" style="">92)</text></g>
<g fill="#2a2a2a" stroke="#2a2a2a" stroke-width="0.1"><text x="447.76" y="176.60" font-size="6.40" textLength="12.70" lengthAdjust="spacingAndGlyphs" xml:space="preserve" style="">(232)</text></g>
<g fill="#2a2a2a" stroke="#2a2a2a" stroke-width="0.1"><text x="464.59" y="176.60" font-size="6.40" textLength="12.70" lengthAdjust="spacingAndGlyphs" xml:space="preserve" style="">(267)</text></g>
<g fill="#2a2a2a" stroke="#2a2a2a" stroke-width="0.1"><text x="481.42" y="176.60" font-size="6.40" textLength="12.70" lengthAdjust="spacingAndGlyphs" xml:space="preserve" style="">(280)</text></g>
<g fill="#2a2a2a" stroke="#2a2a2a" stroke-width="0.1"><text x="498.25" y="176.60" font-size="6.40" textLength="12.70" lengthAdjust="spacingAndGlyphs" xml:space="preserve" style="">(280)</text></g>
<g fill="#2a2a2a" stroke="#2a2a2a" stroke-width="0.1"><text x="333.27" y="188.00" font-size="6.40" textLength="6.05" lengthAdjust="spacingAndGlyphs" xml:space="preserve" style="">48</text></g>
<g fill="#2a2a2a" stroke="#2a2a2a" stroke-width="0.1"><text x="350.10" y="188.00" font-size="6.40" textLength="6.05" lengthAdjust="spacingAndGlyphs" xml:space="preserve" style="">44</text></g>
<g fill="#2a2a2a" stroke="#2a2a2a" stroke-width="0.1"><text x="367.31" y="188.00" font-size="6.40" textLength="3.03" lengthAdjust="spacingAndGlyphs" xml:space="preserve" style="">4</text><text x="370.34" y="188.00" font-size="6.40" textLength="2.27" lengthAdjust="spacingAndGlyphs" xml:space="preserve" style="">1</text></g>
<g fill="#2a2a2a" stroke="#2a2a2a" stroke-width="0.1"><text x="383.76" y="188.00" font-size="6.40" textLength="6.05" lengthAdjust="spacingAndGlyphs" xml:space="preserve" style="">36</text></g>
<g fill="#2a2a2a" stroke="#2a2a2a" stroke-width="0.1"><text x="400.59" y="188.00" font-size="6.40" textLength="6.05" lengthAdjust="spacingAndGlyphs" xml:space="preserve" style="">29</text></g>
<g fill="#2a2a2a" stroke="#2a2a2a" stroke-width="0.1"><text x="417.42" y="188.00" font-size="6.40" textLength="6.05" lengthAdjust="spacingAndGlyphs" xml:space="preserve" style="">24</text></g>
<g fill="#2a2a2a" stroke="#2a2a2a" stroke-width="0.1"><text x="434.63" y="188.00" font-size="6.40" textLength="2.27" lengthAdjust="spacingAndGlyphs" xml:space="preserve" style="">1</text><text x="436.90" y="188.00" font-size="6.40" textLength="3.03" lengthAdjust="spacingAndGlyphs" xml:space="preserve" style="">9</text></g>
<g fill="#2a2a2a" stroke="#2a2a2a" stroke-width="0.1"><text x="451.46" y="188.00" font-size="6.40" textLength="2.27" lengthAdjust="spacingAndGlyphs" xml:space="preserve" style="">1</text><text x="453.73" y="188.00" font-size="6.40" textLength="3.03" lengthAdjust="spacingAndGlyphs" xml:space="preserve" style="">5</text></g>
<g fill="#2a2a2a" stroke="#2a2a2a" stroke-width="0.1"><text x="469.43" y="188.00" font-size="6.40" textLength="3.03" lengthAdjust="spacingAndGlyphs" xml:space="preserve" style="">2</text></g>
<g fill="#2a2a2a" stroke="#2a2a2a" stroke-width="0.1"><text x="486.26" y="188.00" font-size="6.40" textLength="3.03" lengthAdjust="spacingAndGlyphs" xml:space="preserve" style="">0</text></g>
<g fill="#2a2a2a" stroke="#2a2a2a" stroke-width="0.1"><text x="503.09" y="188.00" font-size="6.40" textLength="3.03" lengthAdjust="spacingAndGlyphs" xml:space="preserve" style="">0</text></g>
<g fill="#2a2a2a" stroke="#2a2a2a" stroke-width="0.1"><text x="332.98" y="195.30" font-size="6.40" textLength="6.65" lengthAdjust="spacingAndGlyphs" xml:space="preserve" style="">(0)</text></g>
<g fill="#2a2a2a" stroke="#2a2a2a" stroke-width="0.1"><text x="349.81" y="195.30" font-size="6.40" textLength="6.65" lengthAdjust="spacingAndGlyphs" xml:space="preserve" style="">(0)</text></g>
<g fill="#2a2a2a" stroke="#2a2a2a" stroke-width="0.1"><text x="366.64" y="195.30" font-size="6.40" textLength="6.65" lengthAdjust="spacingAndGlyphs" xml:space="preserve" style="">(0)</text></g>
<g fill="#2a2a2a" stroke="#2a2a2a" stroke-width="0.1"><text x="383.47" y="195.30" font-size="6.40" textLength="6.65" lengthAdjust="spacingAndGlyphs" xml:space="preserve" style="">(0)</text></g>
<g fill="#2a2a2a" stroke="#2a2a2a" stroke-width="0.1"><text x="400.30" y="195.30" font-size="6.40" textLength="6.65" lengthAdjust="spacingAndGlyphs" xml:space="preserve" style="">(2)</text></g>
<g fill="#2a2a2a" stroke="#2a2a2a" stroke-width="0.1"><text x="417.13" y="195.30" font-size="6.40" textLength="6.65" lengthAdjust="spacingAndGlyphs" xml:space="preserve" style="">(5)</text></g>
<g fill="#2a2a2a" stroke="#2a2a2a" stroke-width="0.1"><text x="433.96" y="195.30" font-size="6.40" textLength="6.65" lengthAdjust="spacingAndGlyphs" xml:space="preserve" style="">(8)</text></g>
<g fill="#2a2a2a" stroke="#2a2a2a" stroke-width="0.1"><text x="449.65" y="195.30" font-size="6.40" textLength="1.81" lengthAdjust="spacingAndGlyphs" xml:space="preserve" style="">(</text><text x="451.46" y="195.30" font-size="6.40" textLength="2.27" lengthAdjust="spacingAndGlyphs" xml:space="preserve" style="">1</text><text x="453.73" y="195.30" font-size="6.40" textLength="4.84" lengthAdjust="spacingAndGlyphs" xml:space="preserve" style="">2)</text></g>
<g fill="#2a2a2a" stroke="#2a2a2a" stroke-width="0.1"><text x="466.10" y="195.30" font-size="6.40" textLength="9.67" lengthAdjust="spacingAndGlyphs" xml:space="preserve" style="">(25)</text></g>
<g fill="#2a2a2a" stroke="#2a2a2a" stroke-width="0.1"><text x="482.93" y="195.30" font-size="6.40" textLength="9.67" lengthAdjust="spacingAndGlyphs" xml:space="preserve" style="">(27)</text></g>
<g fill="#2a2a2a" stroke="#2a2a2a" stroke-width="0.1"><text x="499.76" y="195.30" font-size="6.40" textLength="9.67" lengthAdjust="spacingAndGlyphs" xml:space="preserve" style="">(27)</text></g>
<line x1="78.00" y1="230.20" x2="78.00" y2="322.80" stroke="#1e1e1e" stroke-width="1.2"/>
<line x1="77.40" y1="322.20" x2="251.50" y2="322.20" stroke="#1e1e1e" stroke-width="1.2"/>
<line x1="75.20" y1="322.10" x2="78.00" y2="322.10" stroke="#1e1e1e" stroke-width="1.2"/>
<g fill="#2a2a2a" stroke="#2a2a2a" stroke-width="0.1"><text x="61.19" y="325.04" font-size="8.40" textLength="10.51" lengthAdjust="spacingAndGlyphs" xml:space="preserve" style="">0.0</text></g>
<line x1="75.20" y1="304.68" x2="78.00" y2="304.68" stroke="#1e1e1e" stroke-width="1.2"/>
<g fill="#2a2a2a" stroke="#2a2a2a" stroke-width="0.1"><text x="61.19" y="307.62" font-size="8.40" textLength="10.51" lengthAdjust="spacingAndGlyphs" xml:space="preserve" style="">0.2</text></g>
<line x1="75.20" y1="287.26" x2="78.00" y2="287.26" stroke="#1e1e1e" stroke-width="1.2"/>
<g fill="#2a2a2a" stroke="#2a2a2a" stroke-width="0.1"><text x="61.19" y="290.20" font-size="8.40" textLength="10.51" lengthAdjust="spacingAndGlyphs" xml:space="preserve" style="">0.4</text></g>
<line x1="75.20" y1="269.84" x2="78.00" y2="269.84" stroke="#1e1e1e" stroke-width="1.2"/>
<g fill="#2a2a2a" stroke="#2a2a2a" stroke-width="0.1"><text x="61.19" y="272.78" font-size="8.40" textLength="10.51" lengthAdjust="spacingAndGlyphs" xml:space="preserve" style="">0.6</text></g>
<line x1="75.20" y1="252.42" x2="78.00" y2="252.42" stroke="#1e1e1e" stroke-width="1.2"/>
<g fill="#2a2a2a" stroke="#2a2a2a" stroke-width="0.1"><text x="61.19" y="255.36" font-size="8.40" textLength="10.51" lengthAdjust="spacingAndGlyphs" xml:space="preserve" style="">0.8</text></g>
<line x1="75.20" y1="235.00" x2="78.00" y2="235.00" stroke="#1e1e1e" stroke-width="1.2"/>
<g fill="#2a2a2a" stroke="#2a2a2a" stroke-width="0.1"><text x="62.24" y="237.94" font-size="8.40" textLength="3.15" lengthAdjust="spacingAndGlyphs" xml:space="preserve" style="">1</text><text x="65.40" y="237.94" font-size="8.40" textLength="6.30" lengthAdjust="spacingAndGlyphs" xml:space="preserve" style="">.0</text></g>
<line x1="77.90" y1="322.20" x2="77.90" y2="325.00" stroke="#1e1e1e" stroke-width="1.2"/>
<g fill="#2a2a2a" stroke="#2a2a2a" stroke-width="0.1"><text x="75.80" y="334.80" font-size="8.40" textLength="4.20" lengthAdjust="spacingAndGlyphs" xml:space="preserve" style="">0</text></g>
<line x1="94.73" y1="322.20" x2="94.73" y2="325.00" stroke="#1e1e1e" stroke-width="1.2"/>
<g fill="#2a2a2a" stroke="#2a2a2a" stroke-width="0.1"><text x="88.95" y="334.80" font-size="8.40" textLength="3.15" lengthAdjust="spacingAndGlyphs" xml:space="preserve" style="">1</text><text x="92.10" y="334.80" font-size="8.40" textLength="8.41" lengthAdjust="spacingAndGlyphs" xml:space="preserve" style="">00</text></g>
<line x1="111.56" y1="322.20" x2="111.56" y2="325.00" stroke="#1e1e1e" stroke-width="1.2"/>
<g fill="#2a2a2a" stroke="#2a2a2a" stroke-width="0.1"><text x="105.25" y="334.80" font-size="8.40" textLength="12.61" lengthAdjust="spacingAndGlyphs" xml:space="preserve" style="">200</text></g>
<line x1="128.39" y1="322.20" x2="128.39" y2="325.00" stroke="#1e1e1e" stroke-width="1.2"/>
<g fill="#2a2a2a" stroke="#2a2a2a" stroke-width="0.1"><text x="122.08" y="334.80" font-size="8.40" textLength="12.61" lengthAdjust="spacingAndGlyphs" xml:space="preserve" style="">300</text></g>
<line x1="145.22" y1="322.20" x2="145.22" y2="325.00" stroke="#1e1e1e" stroke-width="1.2"/>
<g fill="#2a2a2a" stroke="#2a2a2a" stroke-width="0.1"><text x="138.91" y="334.80" font-size="8.40" textLength="12.61" lengthAdjust="spacingAndGlyphs" xml:space="preserve" style="">400</text></g>
<line x1="162.05" y1="322.20" x2="162.05" y2="325.00" stroke="#1e1e1e" stroke-width="1.2"/>
<g fill="#2a2a2a" stroke="#2a2a2a" stroke-width="0.1"><text x="155.74" y="334.80" font-size="8.40" textLength="12.61" lengthAdjust="spacingAndGlyphs" xml:space="preserve" style="">500</text></g>
<line x1="178.88" y1="322.20" x2="178.88" y2="325.00" stroke="#1e1e1e" stroke-width="1.2"/>
<g fill="#2a2a2a" stroke="#2a2a2a" stroke-width="0.1"><text x="172.57" y="334.80" font-size="8.40" textLength="12.61" lengthAdjust="spacingAndGlyphs" xml:space="preserve" style="">600</text></g>
<line x1="195.71" y1="322.20" x2="195.71" y2="325.00" stroke="#1e1e1e" stroke-width="1.2"/>
<g fill="#2a2a2a" stroke="#2a2a2a" stroke-width="0.1"><text x="189.40" y="334.80" font-size="8.40" textLength="12.61" lengthAdjust="spacingAndGlyphs" xml:space="preserve" style="">700</text></g>
<line x1="212.54" y1="322.20" x2="212.54" y2="325.00" stroke="#1e1e1e" stroke-width="1.2"/>
<g fill="#2a2a2a" stroke="#2a2a2a" stroke-width="0.1"><text x="206.23" y="334.80" font-size="8.40" textLength="12.61" lengthAdjust="spacingAndGlyphs" xml:space="preserve" style="">800</text></g>
<line x1="229.37" y1="322.20" x2="229.37" y2="325.00" stroke="#1e1e1e" stroke-width="1.2"/>
<g fill="#2a2a2a" stroke="#2a2a2a" stroke-width="0.1"><text x="223.06" y="334.80" font-size="8.40" textLength="12.61" lengthAdjust="spacingAndGlyphs" xml:space="preserve" style="">900</text></g>
<line x1="246.20" y1="322.20" x2="246.20" y2="325.00" stroke="#1e1e1e" stroke-width="1.2"/>
<g fill="#2a2a2a" stroke="#2a2a2a" stroke-width="0.1"><text x="238.32" y="334.80" font-size="8.40" textLength="3.15" lengthAdjust="spacingAndGlyphs" xml:space="preserve" style="">1</text><text x="241.47" y="334.80" font-size="8.40" textLength="12.61" lengthAdjust="spacingAndGlyphs" xml:space="preserve" style="">000</text></g>
<g fill="#000" stroke="#000" stroke-width="0.15" font-weight="bold"><text x="6.70" y="226.30" font-size="11.50" textLength="8.30" lengthAdjust="spacingAndGlyphs" xml:space="preserve" style="">C</text></g>
<g fill="#2a2a2a" stroke="#2a2a2a" stroke-width="0.15" transform="translate(43.70,276.50) rotate(-90)"><text x="-35.65" y="0.00" font-size="10.40" textLength="71.30" lengthAdjust="spacingAndGlyphs" xml:space="preserve">Cumulative incidence</text></g>
<g fill="#2a2a2a" stroke="#2a2a2a" stroke-width="0.15" transform="translate(54.00,277.00) rotate(-90)"><text x="-22.50" y="0.00" font-size="10.40" textLength="45.00" lengthAdjust="spacingAndGlyphs" xml:space="preserve">of relapse (%)</text></g>
<g fill="#2a2a2a" stroke="#2a2a2a" stroke-width="0.2"><text x="111.50" y="347.80" font-size="9.00" textLength="105.20" lengthAdjust="spacingAndGlyphs" xml:space="preserve" style="">Post-transplantation time (days)</text></g>
<path d="M89.00,322.20 L89.00,322.20 L89.00,316.70 L93.30,311.50 L98.50,311.50 L98.50,309.80 L106.30,309.80 L106.30,308.00 L112.30,308.00 L112.30,306.70 L116.00,306.70 L116.00,305.50 L122.70,305.50 L122.70,302.00 L133.00,302.00 L133.00,299.40 L141.70,299.40 L141.70,298.00 L149.50,298.00 L149.50,296.30 L169.50,296.30 L169.50,294.00 L172.00,294.00 L172.00,292.10 L218.00,292.10 L218.00,292.10 L218.00,307.20 L218.00,307.20 L172.00,307.20 L172.00,308.40 L149.50,308.40 L149.50,310.70 L133.00,310.70 L133.00,314.10 L124.40,314.10 L124.40,316.70 L112.30,316.70 L112.30,318.40 L106.30,318.40 L106.30,320.20 L93.30,320.20 L89.00,322.20 Z" fill="#edc4ca" stroke="none"/>
<path d="M89.00,322.20 L98.50,322.20 L98.50,320.50 L108.90,320.50 L108.90,319.30 L163.50,319.30 L163.50,317.20 L222.30,317.20 L222.30,317.20 L222.30,320.70 L222.30,320.70 L163.50,320.70 L163.50,322.20 L89.00,322.20 Z" fill="#c8d8e5" stroke="none"/>
<path d="M89.00,322.20 H98.50 V321.60 H108.90 V320.50 H163.50 V319.10 H222.30 V319.10" fill="none" stroke="#124b80" stroke-width="1.5" stroke-linejoin="miter"/>
<path d="M89.00,322.20 L93.30,316.60 H98.50 V315.30 H100.20 V314.10 H106.30 V312.90 H112.30 V312.90 L116.70,310.40 H122.70 V308.40 H126.20 V307.20 H133.00 V305.50 H141.70 V304.60 H147.00 V302.90 H149.50 V302.20 H169.50 V301.50 H173.00 V299.90 H218.00 V299.90" fill="none" stroke="#c5112f" stroke-width="1.5" stroke-linejoin="miter"/>
<g fill="#2a2a2a" stroke="#2a2a2a" stroke-width="0.08"><text x="83.50" y="236.40" font-size="6.40" textLength="31.70" lengthAdjust="spacingAndGlyphs" xml:space="preserve" style="">Gray's test </text><text x="115.20" y="236.40" font-size="6.40" textLength="4.21" lengthAdjust="spacingAndGlyphs" xml:space="preserve" style="font-style:italic;">P</text><text x="119.41" y="236.40" font-size="6.40" textLength="15.96" lengthAdjust="spacingAndGlyphs" xml:space="preserve" style="">&lt;0.00</text><text x="135.37" y="236.40" font-size="6.40" textLength="2.63" lengthAdjust="spacingAndGlyphs" xml:space="preserve" style="">1</text></g>
<line x1="84.00" y1="246.80" x2="93.60" y2="246.80" stroke="#124b80" stroke-width="1.6"/>
<g fill="#2a2a2a" stroke="#2a2a2a" stroke-width="0.08"><text x="96.20" y="249.00" font-size="6.40" textLength="15.68" lengthAdjust="spacingAndGlyphs" xml:space="preserve" style="">CD34</text><text x="112.61" y="246.44" font-size="4.35" textLength="2.44" lengthAdjust="spacingAndGlyphs" xml:space="preserve" style="">+</text><text x="115.78" y="249.00" font-size="6.40" textLength="15.68" lengthAdjust="spacingAndGlyphs" xml:space="preserve" style="">CD38</text><text x="131.88" y="246.44" font-size="4.35" textLength="1.39" lengthAdjust="spacingAndGlyphs" xml:space="preserve" style="">-</text><text x="133.68" y="249.00" font-size="6.40" textLength="20.45" lengthAdjust="spacingAndGlyphs" xml:space="preserve" style="">cocktail</text><text x="154.87" y="246.44" font-size="4.35" textLength="2.44" lengthAdjust="spacingAndGlyphs" xml:space="preserve" style="">+</text><text x="158.04" y="249.00" font-size="6.40" textLength="17.39" lengthAdjust="spacingAndGlyphs" xml:space="preserve" style="">/CD33</text><text x="176.15" y="246.44" font-size="4.35" textLength="2.44" lengthAdjust="spacingAndGlyphs" xml:space="preserve" style="">+</text><text x="179.32" y="249.00" font-size="6.40" textLength="25.91" lengthAdjust="spacingAndGlyphs" xml:space="preserve" style="">/CD45RA</text><text x="205.96" y="246.44" font-size="4.35" textLength="2.44" lengthAdjust="spacingAndGlyphs" xml:space="preserve" style="">+</text><text x="209.12" y="249.00" font-size="6.40" textLength="25.58" lengthAdjust="spacingAndGlyphs" xml:space="preserve" style=""> LSC neg</text></g>
<line x1="84.00" y1="256.40" x2="93.60" y2="256.40" stroke="#c5112f" stroke-width="1.6"/>
<g fill="#2a2a2a" stroke="#2a2a2a" stroke-width="0.08"><text x="96.20" y="258.60" font-size="6.40" textLength="15.64" lengthAdjust="spacingAndGlyphs" xml:space="preserve" style="">CD34</text><text x="112.57" y="256.04" font-size="4.35" textLength="2.43" lengthAdjust="spacingAndGlyphs" xml:space="preserve" style="">+</text><text x="115.73" y="258.60" font-size="6.40" textLength="15.64" lengthAdjust="spacingAndGlyphs" xml:space="preserve" style="">CD38</text><text x="131.79" y="256.04" font-size="4.35" textLength="1.39" lengthAdjust="spacingAndGlyphs" xml:space="preserve" style="">-</text><text x="133.59" y="258.60" font-size="6.40" textLength="20.40" lengthAdjust="spacingAndGlyphs" xml:space="preserve" style="">cocktail</text><text x="154.72" y="256.04" font-size="4.35" textLength="2.43" lengthAdjust="spacingAndGlyphs" xml:space="preserve" style="">+</text><text x="157.88" y="258.60" font-size="6.40" textLength="17.34" lengthAdjust="spacingAndGlyphs" xml:space="preserve" style="">/CD33</text><text x="175.95" y="256.04" font-size="4.35" textLength="2.43" lengthAdjust="spacingAndGlyphs" xml:space="preserve" style="">+</text><text x="179.11" y="258.60" font-size="6.40" textLength="25.84" lengthAdjust="spacingAndGlyphs" xml:space="preserve" style="">/CD45RA</text><text x="205.68" y="256.04" font-size="4.35" textLength="2.43" lengthAdjust="spacingAndGlyphs" xml:space="preserve" style="">+</text><text x="208.83" y="258.60" font-size="6.40" textLength="25.17" lengthAdjust="spacingAndGlyphs" xml:space="preserve" style=""> LSC pos</text></g>
<g fill="#2a2a2a" stroke="#2a2a2a" stroke-width="0.1"><text x="31.40" y="357.40" font-size="6.40" textLength="35.60" lengthAdjust="spacingAndGlyphs" xml:space="preserve" style="">Number at risk</text></g>
<g fill="#2a2a2a" stroke="#2a2a2a" stroke-width="0.1"><text x="20.50" y="365.00" font-size="6.40" textLength="46.50" lengthAdjust="spacingAndGlyphs" xml:space="preserve" style="">(number censored)</text></g>
<g fill="#2a2a2a" stroke="#2a2a2a" stroke-width="0.1"><text x="16.30" y="376.20" font-size="6.40" textLength="12.51" lengthAdjust="spacingAndGlyphs" xml:space="preserve" style="">CD34</text><text x="29.40" y="373.64" font-size="4.35" textLength="1.94" lengthAdjust="spacingAndGlyphs" xml:space="preserve" style="">+</text><text x="31.92" y="376.20" font-size="6.40" textLength="12.51" lengthAdjust="spacingAndGlyphs" xml:space="preserve" style="">CD38</text><text x="44.77" y="373.64" font-size="4.35" textLength="1.11" lengthAdjust="spacingAndGlyphs" xml:space="preserve" style="">-</text><text x="46.21" y="376.20" font-size="6.40" textLength="16.32" lengthAdjust="spacingAndGlyphs" xml:space="preserve" style="">cocktail</text><text x="63.11" y="373.64" font-size="4.35" textLength="1.94" lengthAdjust="spacingAndGlyphs" xml:space="preserve" style="">+</text><text x="65.64" y="376.20" font-size="6.40" textLength="1.36" lengthAdjust="spacingAndGlyphs" xml:space="preserve" style="">/</text></g>
<g fill="#2a2a2a" stroke="#2a2a2a" stroke-width="0.1"><text x="10.00" y="383.80" font-size="6.40" textLength="11.92" lengthAdjust="spacingAndGlyphs" xml:space="preserve" style="">CD33</text><text x="22.48" y="381.24" font-size="4.35" textLength="1.85" lengthAdjust="spacingAndGlyphs" xml:space="preserve" style="">+</text><text x="24.89" y="383.80" font-size="6.40" textLength="19.70" lengthAdjust="spacingAndGlyphs" xml:space="preserve" style="">/CD45RA</text><text x="45.14" y="381.24" font-size="4.35" textLength="1.85" lengthAdjust="spacingAndGlyphs" xml:space="preserve" style="">+</text><text x="47.55" y="383.80" font-size="6.40" textLength="19.45" lengthAdjust="spacingAndGlyphs" xml:space="preserve" style=""> LSC neg</text></g>
<g fill="#2a2a2a" stroke="#2a2a2a" stroke-width="0.1"><text x="16.30" y="397.60" font-size="6.40" textLength="12.51" lengthAdjust="spacingAndGlyphs" xml:space="preserve" style="">CD34</text><text x="29.40" y="395.04" font-size="4.35" textLength="1.94" lengthAdjust="spacingAndGlyphs" xml:space="preserve" style="">+</text><text x="31.92" y="397.60" font-size="6.40" textLength="12.51" lengthAdjust="spacingAndGlyphs" xml:space="preserve" style="">CD38</text><text x="44.77" y="395.04" font-size="4.35" textLength="1.11" lengthAdjust="spacingAndGlyphs" xml:space="preserve" style="">-</text><text x="46.21" y="397.60" font-size="6.40" textLength="16.32" lengthAdjust="spacingAndGlyphs" xml:space="preserve" style="">cocktail</text><text x="63.11" y="395.04" font-size="4.35" textLength="1.94" lengthAdjust="spacingAndGlyphs" xml:space="preserve" style="">+</text><text x="65.64" y="397.60" font-size="6.40" textLength="1.36" lengthAdjust="spacingAndGlyphs" xml:space="preserve" style="">/</text></g>
<g fill="#2a2a2a" stroke="#2a2a2a" stroke-width="0.1"><text x="10.00" y="405.20" font-size="6.40" textLength="11.98" lengthAdjust="spacingAndGlyphs" xml:space="preserve" style="">CD33</text><text x="22.54" y="402.64" font-size="4.35" textLength="1.86" lengthAdjust="spacingAndGlyphs" xml:space="preserve" style="">+</text><text x="24.96" y="405.20" font-size="6.40" textLength="19.79" lengthAdjust="spacingAndGlyphs" xml:space="preserve" style="">/CD45RA</text><text x="45.31" y="402.64" font-size="4.35" textLength="1.86" lengthAdjust="spacingAndGlyphs" xml:space="preserve" style="">+</text><text x="47.73" y="405.20" font-size="6.40" textLength="19.27" lengthAdjust="spacingAndGlyphs" xml:space="preserve" style=""> LSC pos</text></g>
<g fill="#2a2a2a" stroke="#2a2a2a" stroke-width="0.1"><text x="73.36" y="376.20" font-size="6.40" textLength="9.08" lengthAdjust="spacingAndGlyphs" xml:space="preserve" style="">254</text></g>
<g fill="#2a2a2a" stroke="#2a2a2a" stroke-width="0.1"><text x="90.19" y="376.20" font-size="6.40" textLength="9.08" lengthAdjust="spacingAndGlyphs" xml:space="preserve" style="">245</text></g>
<g fill="#2a2a2a" stroke="#2a2a2a" stroke-width="0.1"><text x="107.02" y="376.20" font-size="6.40" textLength="9.08" lengthAdjust="spacingAndGlyphs" xml:space="preserve" style="">234</text></g>
<g fill="#2a2a2a" stroke="#2a2a2a" stroke-width="0.1"><text x="124.23" y="376.20" font-size="6.40" textLength="3.03" lengthAdjust="spacingAndGlyphs" xml:space="preserve" style="">2</text><text x="127.26" y="376.20" font-size="6.40" textLength="2.27" lengthAdjust="spacingAndGlyphs" xml:space="preserve" style="">1</text><text x="129.52" y="376.20" font-size="6.40" textLength="3.03" lengthAdjust="spacingAndGlyphs" xml:space="preserve" style="">9</text></g>
<g fill="#2a2a2a" stroke="#2a2a2a" stroke-width="0.1"><text x="141.06" y="376.20" font-size="6.40" textLength="2.27" lengthAdjust="spacingAndGlyphs" xml:space="preserve" style="">1</text><text x="143.33" y="376.20" font-size="6.40" textLength="6.05" lengthAdjust="spacingAndGlyphs" xml:space="preserve" style="">79</text></g>
<g fill="#2a2a2a" stroke="#2a2a2a" stroke-width="0.1"><text x="157.89" y="376.20" font-size="6.40" textLength="2.27" lengthAdjust="spacingAndGlyphs" xml:space="preserve" style="">1</text><text x="160.16" y="376.20" font-size="6.40" textLength="6.05" lengthAdjust="spacingAndGlyphs" xml:space="preserve" style="">26</text></g>
<g fill="#2a2a2a" stroke="#2a2a2a" stroke-width="0.1"><text x="175.85" y="376.20" font-size="6.40" textLength="6.05" lengthAdjust="spacingAndGlyphs" xml:space="preserve" style="">67</text></g>
<g fill="#2a2a2a" stroke="#2a2a2a" stroke-width="0.1"><text x="192.68" y="376.20" font-size="6.40" textLength="6.05" lengthAdjust="spacingAndGlyphs" xml:space="preserve" style="">34</text></g>
<g fill="#2a2a2a" stroke="#2a2a2a" stroke-width="0.1"><text x="209.89" y="376.20" font-size="6.40" textLength="2.27" lengthAdjust="spacingAndGlyphs" xml:space="preserve" style="">1</text><text x="212.16" y="376.20" font-size="6.40" textLength="3.03" lengthAdjust="spacingAndGlyphs" xml:space="preserve" style="">0</text></g>
<g fill="#2a2a2a" stroke="#2a2a2a" stroke-width="0.1"><text x="227.86" y="376.20" font-size="6.40" textLength="3.03" lengthAdjust="spacingAndGlyphs" xml:space="preserve" style="">0</text></g>
<g fill="#2a2a2a" stroke="#2a2a2a" stroke-width="0.1"><text x="244.69" y="376.20" font-size="6.40" textLength="3.03" lengthAdjust="spacingAndGlyphs" xml:space="preserve" style="">0</text></g>
<g fill="#2a2a2a" stroke="#2a2a2a" stroke-width="0.1"><text x="74.58" y="383.50" font-size="6.40" textLength="6.65" lengthAdjust="spacingAndGlyphs" xml:space="preserve" style="">(0)</text></g>
<g fill="#2a2a2a" stroke="#2a2a2a" stroke-width="0.1"><text x="91.41" y="383.50" font-size="6.40" textLength="6.65" lengthAdjust="spacingAndGlyphs" xml:space="preserve" style="">(0)</text></g>
<g fill="#2a2a2a" stroke="#2a2a2a" stroke-width="0.1"><text x="107.10" y="383.50" font-size="6.40" textLength="1.81" lengthAdjust="spacingAndGlyphs" xml:space="preserve" style="">(</text><text x="108.91" y="383.50" font-size="6.40" textLength="2.27" lengthAdjust="spacingAndGlyphs" xml:space="preserve" style="">1</text><text x="111.18" y="383.50" font-size="6.40" textLength="4.84" lengthAdjust="spacingAndGlyphs" xml:space="preserve" style="">7)</text></g>
<g fill="#2a2a2a" stroke="#2a2a2a" stroke-width="0.1"><text x="123.93" y="383.50" font-size="6.40" textLength="4.84" lengthAdjust="spacingAndGlyphs" xml:space="preserve" style="">(3</text><text x="128.77" y="383.50" font-size="6.40" textLength="2.27" lengthAdjust="spacingAndGlyphs" xml:space="preserve" style="">1</text><text x="131.04" y="383.50" font-size="6.40" textLength="1.81" lengthAdjust="spacingAndGlyphs" xml:space="preserve" style="">)</text></g>
<g fill="#2a2a2a" stroke="#2a2a2a" stroke-width="0.1"><text x="140.76" y="383.50" font-size="6.40" textLength="4.84" lengthAdjust="spacingAndGlyphs" xml:space="preserve" style="">(7</text><text x="145.60" y="383.50" font-size="6.40" textLength="2.27" lengthAdjust="spacingAndGlyphs" xml:space="preserve" style="">1</text><text x="147.87" y="383.50" font-size="6.40" textLength="1.81" lengthAdjust="spacingAndGlyphs" xml:space="preserve" style="">)</text></g>
<g fill="#2a2a2a" stroke="#2a2a2a" stroke-width="0.1"><text x="156.08" y="383.50" font-size="6.40" textLength="1.81" lengthAdjust="spacingAndGlyphs" xml:space="preserve" style="">(</text><text x="157.89" y="383.50" font-size="6.40" textLength="2.27" lengthAdjust="spacingAndGlyphs" xml:space="preserve" style="">1</text><text x="160.16" y="383.50" font-size="6.40" textLength="7.86" lengthAdjust="spacingAndGlyphs" xml:space="preserve" style="">82)</text></g>
<g fill="#2a2a2a" stroke="#2a2a2a" stroke-width="0.1"><text x="172.91" y="383.50" font-size="6.40" textLength="4.84" lengthAdjust="spacingAndGlyphs" xml:space="preserve" style="">(2</text><text x="177.75" y="383.50" font-size="6.40" textLength="2.27" lengthAdjust="spacingAndGlyphs" xml:space="preserve" style="">1</text><text x="180.01" y="383.50" font-size="6.40" textLength="4.84" lengthAdjust="spacingAndGlyphs" xml:space="preserve" style="">5)</text></g>
<g fill="#2a2a2a" stroke="#2a2a2a" stroke-width="0.1"><text x="189.74" y="383.50" font-size="6.40" textLength="4.84" lengthAdjust="spacingAndGlyphs" xml:space="preserve" style="">(2</text><text x="194.58" y="383.50" font-size="6.40" textLength="2.27" lengthAdjust="spacingAndGlyphs" xml:space="preserve" style="">1</text><text x="196.84" y="383.50" font-size="6.40" textLength="4.84" lengthAdjust="spacingAndGlyphs" xml:space="preserve" style="">5)</text></g>
<g fill="#2a2a2a" stroke="#2a2a2a" stroke-width="0.1"><text x="206.19" y="383.50" font-size="6.40" textLength="12.70" lengthAdjust="spacingAndGlyphs" xml:space="preserve" style="">(239)</text></g>
<g fill="#2a2a2a" stroke="#2a2a2a" stroke-width="0.1"><text x="223.02" y="383.50" font-size="6.40" textLength="12.70" lengthAdjust="spacingAndGlyphs" xml:space="preserve" style="">(249)</text></g>
<g fill="#2a2a2a" stroke="#2a2a2a" stroke-width="0.1"><text x="239.85" y="383.50" font-size="6.40" textLength="12.70" lengthAdjust="spacingAndGlyphs" xml:space="preserve" style="">(249)</text></g>
<g fill="#2a2a2a" stroke="#2a2a2a" stroke-width="0.1"><text x="73.74" y="397.70" font-size="6.40" textLength="2.27" lengthAdjust="spacingAndGlyphs" xml:space="preserve" style="">1</text><text x="76.01" y="397.70" font-size="6.40" textLength="6.05" lengthAdjust="spacingAndGlyphs" xml:space="preserve" style="">06</text></g>
<g fill="#2a2a2a" stroke="#2a2a2a" stroke-width="0.1"><text x="91.70" y="397.70" font-size="6.40" textLength="6.05" lengthAdjust="spacingAndGlyphs" xml:space="preserve" style="">98</text></g>
<g fill="#2a2a2a" stroke="#2a2a2a" stroke-width="0.1"><text x="108.53" y="397.70" font-size="6.40" textLength="6.05" lengthAdjust="spacingAndGlyphs" xml:space="preserve" style="">92</text></g>
<g fill="#2a2a2a" stroke="#2a2a2a" stroke-width="0.1"><text x="125.36" y="397.70" font-size="6.40" textLength="6.05" lengthAdjust="spacingAndGlyphs" xml:space="preserve" style="">82</text></g>
<g fill="#2a2a2a" stroke="#2a2a2a" stroke-width="0.1"><text x="142.19" y="397.70" font-size="6.40" textLength="6.05" lengthAdjust="spacingAndGlyphs" xml:space="preserve" style="">70</text></g>
<g fill="#2a2a2a" stroke="#2a2a2a" stroke-width="0.1"><text x="159.02" y="397.70" font-size="6.40" textLength="6.05" lengthAdjust="spacingAndGlyphs" xml:space="preserve" style="">54</text></g>
<g fill="#2a2a2a" stroke="#2a2a2a" stroke-width="0.1"><text x="175.85" y="397.70" font-size="6.40" textLength="6.05" lengthAdjust="spacingAndGlyphs" xml:space="preserve" style="">40</text></g>
<g fill="#2a2a2a" stroke="#2a2a2a" stroke-width="0.1"><text x="192.68" y="397.70" font-size="6.40" textLength="6.05" lengthAdjust="spacingAndGlyphs" xml:space="preserve" style="">29</text></g>
<g fill="#2a2a2a" stroke="#2a2a2a" stroke-width="0.1"><text x="211.03" y="397.70" font-size="6.40" textLength="3.03" lengthAdjust="spacingAndGlyphs" xml:space="preserve" style="">5</text></g>
<g fill="#2a2a2a" stroke="#2a2a2a" stroke-width="0.1"><text x="227.86" y="397.70" font-size="6.40" textLength="3.03" lengthAdjust="spacingAndGlyphs" xml:space="preserve" style="">0</text></g>
<g fill="#2a2a2a" stroke="#2a2a2a" stroke-width="0.1"><text x="244.69" y="397.70" font-size="6.40" textLength="3.03" lengthAdjust="spacingAndGlyphs" xml:space="preserve" style="">0</text></g>
<g fill="#2a2a2a" stroke="#2a2a2a" stroke-width="0.1"><text x="74.58" y="405.00" font-size="6.40" textLength="6.65" lengthAdjust="spacingAndGlyphs" xml:space="preserve" style="">(0)</text></g>
<g fill="#2a2a2a" stroke="#2a2a2a" stroke-width="0.1"><text x="91.78" y="405.00" font-size="6.40" textLength="1.81" lengthAdjust="spacingAndGlyphs" xml:space="preserve" style="">(</text><text x="93.60" y="405.00" font-size="6.40" textLength="2.27" lengthAdjust="spacingAndGlyphs" xml:space="preserve" style="">1</text><text x="95.86" y="405.00" font-size="6.40" textLength="1.81" lengthAdjust="spacingAndGlyphs" xml:space="preserve" style="">)</text></g>
<g fill="#2a2a2a" stroke="#2a2a2a" stroke-width="0.1"><text x="108.24" y="405.00" font-size="6.40" textLength="6.65" lengthAdjust="spacingAndGlyphs" xml:space="preserve" style="">(3)</text></g>
<g fill="#2a2a2a" stroke="#2a2a2a" stroke-width="0.1"><text x="125.07" y="405.00" font-size="6.40" textLength="6.65" lengthAdjust="spacingAndGlyphs" xml:space="preserve" style="">(7)</text></g>
<g fill="#2a2a2a" stroke="#2a2a2a" stroke-width="0.1"><text x="140.76" y="405.00" font-size="6.40" textLength="1.81" lengthAdjust="spacingAndGlyphs" xml:space="preserve" style="">(</text><text x="142.57" y="405.00" font-size="6.40" textLength="2.27" lengthAdjust="spacingAndGlyphs" xml:space="preserve" style="">1</text><text x="144.84" y="405.00" font-size="6.40" textLength="4.84" lengthAdjust="spacingAndGlyphs" xml:space="preserve" style="">5)</text></g>
<g fill="#2a2a2a" stroke="#2a2a2a" stroke-width="0.1"><text x="157.21" y="405.00" font-size="6.40" textLength="9.67" lengthAdjust="spacingAndGlyphs" xml:space="preserve" style="">(29)</text></g>
<g fill="#2a2a2a" stroke="#2a2a2a" stroke-width="0.1"><text x="174.42" y="405.00" font-size="6.40" textLength="4.84" lengthAdjust="spacingAndGlyphs" xml:space="preserve" style="">(4</text><text x="179.26" y="405.00" font-size="6.40" textLength="2.27" lengthAdjust="spacingAndGlyphs" xml:space="preserve" style="">1</text><text x="181.53" y="405.00" font-size="6.40" textLength="1.81" lengthAdjust="spacingAndGlyphs" xml:space="preserve" style="">)</text></g>
<g fill="#2a2a2a" stroke="#2a2a2a" stroke-width="0.1"><text x="190.87" y="405.00" font-size="6.40" textLength="9.67" lengthAdjust="spacingAndGlyphs" xml:space="preserve" style="">(52)</text></g>
<g fill="#2a2a2a" stroke="#2a2a2a" stroke-width="0.1"><text x="207.70" y="405.00" font-size="6.40" textLength="9.67" lengthAdjust="spacingAndGlyphs" xml:space="preserve" style="">(76)</text></g>
<g fill="#2a2a2a" stroke="#2a2a2a" stroke-width="0.1"><text x="224.91" y="405.00" font-size="6.40" textLength="4.84" lengthAdjust="spacingAndGlyphs" xml:space="preserve" style="">(8</text><text x="229.75" y="405.00" font-size="6.40" textLength="2.27" lengthAdjust="spacingAndGlyphs" xml:space="preserve" style="">1</text><text x="232.02" y="405.00" font-size="6.40" textLength="1.81" lengthAdjust="spacingAndGlyphs" xml:space="preserve" style="">)</text></g>
<g fill="#2a2a2a" stroke="#2a2a2a" stroke-width="0.1"><text x="241.74" y="405.00" font-size="6.40" textLength="4.84" lengthAdjust="spacingAndGlyphs" xml:space="preserve" style="">(8</text><text x="246.58" y="405.00" font-size="6.40" textLength="2.27" lengthAdjust="spacingAndGlyphs" xml:space="preserve" style="">1</text><text x="248.85" y="405.00" font-size="6.40" textLength="1.81" lengthAdjust="spacingAndGlyphs" xml:space="preserve" style="">)</text></g>
<line x1="336.70" y1="227.30" x2="336.70" y2="323.00" stroke="#1e1e1e" stroke-width="1.2"/>
<line x1="336.10" y1="322.40" x2="510.00" y2="322.40" stroke="#1e1e1e" stroke-width="1.2"/>
<line x1="333.90" y1="321.80" x2="336.70" y2="321.80" stroke="#1e1e1e" stroke-width="1.2"/>
<g fill="#2a2a2a" stroke="#2a2a2a" stroke-width="0.1"><text x="321.19" y="324.74" font-size="8.40" textLength="10.51" lengthAdjust="spacingAndGlyphs" xml:space="preserve" style="">0.0</text></g>
<line x1="333.90" y1="303.98" x2="336.70" y2="303.98" stroke="#1e1e1e" stroke-width="1.2"/>
<g fill="#2a2a2a" stroke="#2a2a2a" stroke-width="0.1"><text x="321.19" y="306.92" font-size="8.40" textLength="10.51" lengthAdjust="spacingAndGlyphs" xml:space="preserve" style="">0.2</text></g>
<line x1="333.90" y1="286.16" x2="336.70" y2="286.16" stroke="#1e1e1e" stroke-width="1.2"/>
<g fill="#2a2a2a" stroke="#2a2a2a" stroke-width="0.1"><text x="321.19" y="289.10" font-size="8.40" textLength="10.51" lengthAdjust="spacingAndGlyphs" xml:space="preserve" style="">0.4</text></g>
<line x1="333.90" y1="268.34" x2="336.70" y2="268.34" stroke="#1e1e1e" stroke-width="1.2"/>
<g fill="#2a2a2a" stroke="#2a2a2a" stroke-width="0.1"><text x="321.19" y="271.28" font-size="8.40" textLength="10.51" lengthAdjust="spacingAndGlyphs" xml:space="preserve" style="">0.6</text></g>
<line x1="333.90" y1="250.52" x2="336.70" y2="250.52" stroke="#1e1e1e" stroke-width="1.2"/>
<g fill="#2a2a2a" stroke="#2a2a2a" stroke-width="0.1"><text x="321.19" y="253.46" font-size="8.40" textLength="10.51" lengthAdjust="spacingAndGlyphs" xml:space="preserve" style="">0.8</text></g>
<line x1="333.90" y1="232.70" x2="336.70" y2="232.70" stroke="#1e1e1e" stroke-width="1.2"/>
<g fill="#2a2a2a" stroke="#2a2a2a" stroke-width="0.1"><text x="322.24" y="235.64" font-size="8.40" textLength="3.15" lengthAdjust="spacingAndGlyphs" xml:space="preserve" style="">1</text><text x="325.40" y="235.64" font-size="8.40" textLength="6.30" lengthAdjust="spacingAndGlyphs" xml:space="preserve" style="">.0</text></g>
<line x1="336.00" y1="322.40" x2="336.00" y2="325.20" stroke="#1e1e1e" stroke-width="1.2"/>
<g fill="#2a2a2a" stroke="#2a2a2a" stroke-width="0.1"><text x="333.90" y="334.60" font-size="8.40" textLength="4.20" lengthAdjust="spacingAndGlyphs" xml:space="preserve" style="">0</text></g>
<line x1="352.28" y1="322.40" x2="352.28" y2="325.20" stroke="#1e1e1e" stroke-width="1.2"/>
<g fill="#2a2a2a" stroke="#2a2a2a" stroke-width="0.1"><text x="346.50" y="334.60" font-size="8.40" textLength="3.15" lengthAdjust="spacingAndGlyphs" xml:space="preserve" style="">1</text><text x="349.65" y="334.60" font-size="8.40" textLength="8.41" lengthAdjust="spacingAndGlyphs" xml:space="preserve" style="">00</text></g>
<line x1="368.56" y1="322.40" x2="368.56" y2="325.20" stroke="#1e1e1e" stroke-width="1.2"/>
<g fill="#2a2a2a" stroke="#2a2a2a" stroke-width="0.1"><text x="362.25" y="334.60" font-size="8.40" textLength="12.61" lengthAdjust="spacingAndGlyphs" xml:space="preserve" style="">200</text></g>
<line x1="384.84" y1="322.40" x2="384.84" y2="325.20" stroke="#1e1e1e" stroke-width="1.2"/>
<g fill="#2a2a2a" stroke="#2a2a2a" stroke-width="0.1"><text x="378.53" y="334.60" font-size="8.40" textLength="12.61" lengthAdjust="spacingAndGlyphs" xml:space="preserve" style="">300</text></g>
<line x1="401.12" y1="322.40" x2="401.12" y2="325.20" stroke="#1e1e1e" stroke-width="1.2"/>
<g fill="#2a2a2a" stroke="#2a2a2a" stroke-width="0.1"><text x="394.81" y="334.60" font-size="8.40" textLength="12.61" lengthAdjust="spacingAndGlyphs" xml:space="preserve" style="">400</text></g>
<line x1="417.40" y1="322.40" x2="417.40" y2="325.20" stroke="#1e1e1e" stroke-width="1.2"/>
<g fill="#2a2a2a" stroke="#2a2a2a" stroke-width="0.1"><text x="411.09" y="334.60" font-size="8.40" textLength="12.61" lengthAdjust="spacingAndGlyphs" xml:space="preserve" style="">500</text></g>
<line x1="433.68" y1="322.40" x2="433.68" y2="325.20" stroke="#1e1e1e" stroke-width="1.2"/>
<g fill="#2a2a2a" stroke="#2a2a2a" stroke-width="0.1"><text x="427.37" y="334.60" font-size="8.40" textLength="12.61" lengthAdjust="spacingAndGlyphs" xml:space="preserve" style="">600</text></g>
<line x1="449.96" y1="322.40" x2="449.96" y2="325.20" stroke="#1e1e1e" stroke-width="1.2"/>
<g fill="#2a2a2a" stroke="#2a2a2a" stroke-width="0.1"><text x="443.65" y="334.60" font-size="8.40" textLength="12.61" lengthAdjust="spacingAndGlyphs" xml:space="preserve" style="">700</text></g>
<line x1="466.24" y1="322.40" x2="466.24" y2="325.20" stroke="#1e1e1e" stroke-width="1.2"/>
<g fill="#2a2a2a" stroke="#2a2a2a" stroke-width="0.1"><text x="459.93" y="334.60" font-size="8.40" textLength="12.61" lengthAdjust="spacingAndGlyphs" xml:space="preserve" style="">800</text></g>
<line x1="482.52" y1="322.40" x2="482.52" y2="325.20" stroke="#1e1e1e" stroke-width="1.2"/>
<g fill="#2a2a2a" stroke="#2a2a2a" stroke-width="0.1"><text x="476.21" y="334.60" font-size="8.40" textLength="12.61" lengthAdjust="spacingAndGlyphs" xml:space="preserve" style="">900</text></g>
<line x1="498.80" y1="322.40" x2="498.80" y2="325.20" stroke="#1e1e1e" stroke-width="1.2"/>
<g fill="#2a2a2a" stroke="#2a2a2a" stroke-width="0.1"><text x="490.92" y="334.60" font-size="8.40" textLength="3.15" lengthAdjust="spacingAndGlyphs" xml:space="preserve" style="">1</text><text x="494.07" y="334.60" font-size="8.40" textLength="12.61" lengthAdjust="spacingAndGlyphs" xml:space="preserve" style="">000</text></g>
<g fill="#000" stroke="#000" stroke-width="0.15" font-weight="bold"><text x="270.60" y="225.80" font-size="11.50" textLength="8.30" lengthAdjust="spacingAndGlyphs" xml:space="preserve" style="">D</text></g>
<g fill="#2a2a2a" stroke="#2a2a2a" stroke-width="0.15" transform="translate(302.50,274.50) rotate(-90)"><text x="-39.50" y="0.00" font-size="10.40" textLength="79.00" lengthAdjust="spacingAndGlyphs" xml:space="preserve">Probability of leukemia-</text></g>
<g fill="#2a2a2a" stroke="#2a2a2a" stroke-width="0.15" transform="translate(313.60,276.20) rotate(-90)"><text x="-26.70" y="0.00" font-size="10.40" textLength="53.40" lengthAdjust="spacingAndGlyphs" xml:space="preserve">free survival (%)</text></g>
<g fill="#2a2a2a" stroke="#2a2a2a" stroke-width="0.2"><text x="370.40" y="347.60" font-size="9.00" textLength="104.40" lengthAdjust="spacingAndGlyphs" xml:space="preserve" style="">Post-transplantation time (days)</text></g>
<path d="M336.70,232.60 L350.00,235.00 L356.50,235.00 L356.50,238.00 L377.30,242.40 L384.20,242.40 L384.20,245.00 L391.10,245.00 L391.10,246.80 L399.70,246.80 L399.70,247.60 L406.70,247.60 L406.70,250.20 L415.30,250.20 L415.30,251.00 L424.00,251.00 L424.00,251.60 L426.00,251.60 L426.00,252.80 L430.40,252.80 L430.40,254.00 L473.60,254.00 L473.60,254.00 L473.60,270.50 L473.60,270.50 L430.40,270.50 L430.40,268.40 L426.00,268.40 L426.00,266.70 L424.00,266.70 L424.00,265.80 L415.30,265.80 L415.30,263.20 L406.70,263.20 L406.70,261.50 L399.70,261.50 L399.70,259.70 L391.10,259.70 L391.10,257.10 L384.20,257.10 L384.20,254.50 L377.30,254.50 L377.30,252.00 L373.80,252.00 L373.80,250.20 L362.50,250.20 L362.50,247.60 L356.50,247.60 L356.50,243.30 L352.20,243.30 L336.70,232.60 Z" fill="#edc4ca" stroke="none"/>
<path d="M336.70,232.60 L350.40,233.80 L375.50,237.80 L478.00,237.80 L478.00,237.80 L478.00,243.30 L478.00,243.30 L420.50,243.30 L420.50,242.40 L375.50,242.40 L350.40,236.50 L336.70,232.60 Z" fill="#c8d8e5" stroke="none"/>
<path d="M336.70,232.60 H345.00 V232.60 L350.40,234.70 H354.80 V236.70 H365.10 V237.80 H370.30 V239.00 H375.50 V239.50 H420.50 V240.40 H478.00 V240.40" fill="none" stroke="#124b80" stroke-width="1.5" stroke-linejoin="miter"/>
<path d="M336.70,232.60 H347.50 V232.60 L352.10,238.40 H356.80 V239.50 L363.70,243.60 H372.90 V245.30 H376.40 V247.00 H382.10 V249.30 H390.20 V252.20 H399.70 V254.20 H406.70 V256.30 H415.30 V257.80 H426.00 V258.90 H430.40 V260.90 H473.60 V260.90" fill="none" stroke="#c5112f" stroke-width="1.5" stroke-linejoin="miter"/>
<g fill="#2a2a2a" stroke="#2a2a2a" stroke-width="0.08"><text x="342.60" y="296.70" font-size="6.40" textLength="26.46" lengthAdjust="spacingAndGlyphs" xml:space="preserve" style="">Log-rank </text><text x="369.06" y="296.70" font-size="6.40" textLength="4.18" lengthAdjust="spacingAndGlyphs" xml:space="preserve" style="font-style:italic;">P</text><text x="373.24" y="296.70" font-size="6.40" textLength="15.85" lengthAdjust="spacingAndGlyphs" xml:space="preserve" style="">&lt;0.00</text><text x="389.09" y="296.70" font-size="6.40" textLength="2.61" lengthAdjust="spacingAndGlyphs" xml:space="preserve" style="">1</text></g>
<line x1="343.30" y1="306.80" x2="352.40" y2="306.80" stroke="#124b80" stroke-width="1.6"/>
<g fill="#2a2a2a" stroke="#2a2a2a" stroke-width="0.08"><text x="355.40" y="309.90" font-size="6.40" textLength="15.69" lengthAdjust="spacingAndGlyphs" xml:space="preserve" style="">CD34</text><text x="371.83" y="307.34" font-size="4.35" textLength="2.44" lengthAdjust="spacingAndGlyphs" xml:space="preserve" style="">+</text><text x="374.99" y="309.90" font-size="6.40" textLength="15.69" lengthAdjust="spacingAndGlyphs" xml:space="preserve" style="">CD38</text><text x="391.10" y="307.34" font-size="4.35" textLength="1.39" lengthAdjust="spacingAndGlyphs" xml:space="preserve" style="">-</text><text x="392.91" y="309.90" font-size="6.40" textLength="20.47" lengthAdjust="spacingAndGlyphs" xml:space="preserve" style="">cocktail</text><text x="414.11" y="307.34" font-size="4.35" textLength="2.44" lengthAdjust="spacingAndGlyphs" xml:space="preserve" style="">+</text><text x="417.28" y="309.90" font-size="6.40" textLength="17.40" lengthAdjust="spacingAndGlyphs" xml:space="preserve" style="">/CD33</text><text x="435.41" y="307.34" font-size="4.35" textLength="2.44" lengthAdjust="spacingAndGlyphs" xml:space="preserve" style="">+</text><text x="438.58" y="309.90" font-size="6.40" textLength="25.93" lengthAdjust="spacingAndGlyphs" xml:space="preserve" style="">/CD45RA</text><text x="465.24" y="307.34" font-size="4.35" textLength="2.44" lengthAdjust="spacingAndGlyphs" xml:space="preserve" style="">+</text><text x="468.41" y="309.90" font-size="6.40" textLength="25.59" lengthAdjust="spacingAndGlyphs" xml:space="preserve" style=""> LSC neg</text></g>
<line x1="343.30" y1="316.00" x2="352.40" y2="316.00" stroke="#c5112f" stroke-width="1.6"/>
<g fill="#2a2a2a" stroke="#2a2a2a" stroke-width="0.08"><text x="355.40" y="319.10" font-size="6.40" textLength="15.65" lengthAdjust="spacingAndGlyphs" xml:space="preserve" style="">CD34</text><text x="371.78" y="316.54" font-size="4.35" textLength="2.43" lengthAdjust="spacingAndGlyphs" xml:space="preserve" style="">+</text><text x="374.94" y="319.10" font-size="6.40" textLength="15.65" lengthAdjust="spacingAndGlyphs" xml:space="preserve" style="">CD38</text><text x="391.01" y="316.54" font-size="4.35" textLength="1.39" lengthAdjust="spacingAndGlyphs" xml:space="preserve" style="">-</text><text x="392.82" y="319.10" font-size="6.40" textLength="20.42" lengthAdjust="spacingAndGlyphs" xml:space="preserve" style="">cocktail</text><text x="413.96" y="316.54" font-size="4.35" textLength="2.43" lengthAdjust="spacingAndGlyphs" xml:space="preserve" style="">+</text><text x="417.12" y="319.10" font-size="6.40" textLength="17.35" lengthAdjust="spacingAndGlyphs" xml:space="preserve" style="">/CD33</text><text x="435.21" y="316.54" font-size="4.35" textLength="2.43" lengthAdjust="spacingAndGlyphs" xml:space="preserve" style="">+</text><text x="438.37" y="319.10" font-size="6.40" textLength="25.86" lengthAdjust="spacingAndGlyphs" xml:space="preserve" style="">/CD45RA</text><text x="464.96" y="316.54" font-size="4.35" textLength="2.43" lengthAdjust="spacingAndGlyphs" xml:space="preserve" style="">+</text><text x="468.12" y="319.10" font-size="6.40" textLength="25.18" lengthAdjust="spacingAndGlyphs" xml:space="preserve" style=""> LSC pos</text></g>
<g fill="#2a2a2a" stroke="#2a2a2a" stroke-width="0.1"><text x="291.40" y="359.80" font-size="6.40" textLength="35.60" lengthAdjust="spacingAndGlyphs" xml:space="preserve" style="">Number at risk</text></g>
<g fill="#2a2a2a" stroke="#2a2a2a" stroke-width="0.1"><text x="280.50" y="367.30" font-size="6.40" textLength="46.50" lengthAdjust="spacingAndGlyphs" xml:space="preserve" style="">(number censored)</text></g>
<g fill="#2a2a2a" stroke="#2a2a2a" stroke-width="0.1"><text x="276.30" y="378.50" font-size="6.40" textLength="12.51" lengthAdjust="spacingAndGlyphs" xml:space="preserve" style="">CD34</text><text x="289.40" y="375.94" font-size="4.35" textLength="1.94" lengthAdjust="spacingAndGlyphs" xml:space="preserve" style="">+</text><text x="291.92" y="378.50" font-size="6.40" textLength="12.51" lengthAdjust="spacingAndGlyphs" xml:space="preserve" style="">CD38</text><text x="304.77" y="375.94" font-size="4.35" textLength="1.11" lengthAdjust="spacingAndGlyphs" xml:space="preserve" style="">-</text><text x="306.21" y="378.50" font-size="6.40" textLength="16.32" lengthAdjust="spacingAndGlyphs" xml:space="preserve" style="">cocktail</text><text x="323.11" y="375.94" font-size="4.35" textLength="1.94" lengthAdjust="spacingAndGlyphs" xml:space="preserve" style="">+</text><text x="325.64" y="378.50" font-size="6.40" textLength="1.36" lengthAdjust="spacingAndGlyphs" xml:space="preserve" style="">/</text></g>
<g fill="#2a2a2a" stroke="#2a2a2a" stroke-width="0.1"><text x="270.00" y="386.00" font-size="6.40" textLength="11.92" lengthAdjust="spacingAndGlyphs" xml:space="preserve" style="">CD33</text><text x="282.48" y="383.44" font-size="4.35" textLength="1.85" lengthAdjust="spacingAndGlyphs" xml:space="preserve" style="">+</text><text x="284.89" y="386.00" font-size="6.40" textLength="19.70" lengthAdjust="spacingAndGlyphs" xml:space="preserve" style="">/CD45RA</text><text x="305.14" y="383.44" font-size="4.35" textLength="1.85" lengthAdjust="spacingAndGlyphs" xml:space="preserve" style="">+</text><text x="307.55" y="386.00" font-size="6.40" textLength="19.45" lengthAdjust="spacingAndGlyphs" xml:space="preserve" style=""> LSC neg</text></g>
<g fill="#2a2a2a" stroke="#2a2a2a" stroke-width="0.1"><text x="276.30" y="397.80" font-size="6.40" textLength="12.51" lengthAdjust="spacingAndGlyphs" xml:space="preserve" style="">CD34</text><text x="289.40" y="395.24" font-size="4.35" textLength="1.94" lengthAdjust="spacingAndGlyphs" xml:space="preserve" style="">+</text><text x="291.92" y="397.80" font-size="6.40" textLength="12.51" lengthAdjust="spacingAndGlyphs" xml:space="preserve" style="">CD38</text><text x="304.77" y="395.24" font-size="4.35" textLength="1.11" lengthAdjust="spacingAndGlyphs" xml:space="preserve" style="">-</text><text x="306.21" y="397.80" font-size="6.40" textLength="16.32" lengthAdjust="spacingAndGlyphs" xml:space="preserve" style="">cocktail</text><text x="323.11" y="395.24" font-size="4.35" textLength="1.94" lengthAdjust="spacingAndGlyphs" xml:space="preserve" style="">+</text><text x="325.64" y="397.80" font-size="6.40" textLength="1.36" lengthAdjust="spacingAndGlyphs" xml:space="preserve" style="">/</text></g>
<g fill="#2a2a2a" stroke="#2a2a2a" stroke-width="0.1"><text x="270.00" y="405.40" font-size="6.40" textLength="11.98" lengthAdjust="spacingAndGlyphs" xml:space="preserve" style="">CD33</text><text x="282.54" y="402.84" font-size="4.35" textLength="1.86" lengthAdjust="spacingAndGlyphs" xml:space="preserve" style="">+</text><text x="284.96" y="405.40" font-size="6.40" textLength="19.79" lengthAdjust="spacingAndGlyphs" xml:space="preserve" style="">/CD45RA</text><text x="305.31" y="402.84" font-size="4.35" textLength="1.86" lengthAdjust="spacingAndGlyphs" xml:space="preserve" style="">+</text><text x="307.73" y="405.40" font-size="6.40" textLength="19.27" lengthAdjust="spacingAndGlyphs" xml:space="preserve" style=""> LSC pos</text></g>
<g fill="#2a2a2a" stroke="#2a2a2a" stroke-width="0.1"><text x="331.46" y="378.50" font-size="6.40" textLength="9.08" lengthAdjust="spacingAndGlyphs" xml:space="preserve" style="">254</text></g>
<g fill="#2a2a2a" stroke="#2a2a2a" stroke-width="0.1"><text x="347.74" y="378.50" font-size="6.40" textLength="9.08" lengthAdjust="spacingAndGlyphs" xml:space="preserve" style="">245</text></g>
<g fill="#2a2a2a" stroke="#2a2a2a" stroke-width="0.1"><text x="364.02" y="378.50" font-size="6.40" textLength="9.08" lengthAdjust="spacingAndGlyphs" xml:space="preserve" style="">234</text></g>
<g fill="#2a2a2a" stroke="#2a2a2a" stroke-width="0.1"><text x="380.68" y="378.50" font-size="6.40" textLength="3.03" lengthAdjust="spacingAndGlyphs" xml:space="preserve" style="">2</text><text x="383.71" y="378.50" font-size="6.40" textLength="2.27" lengthAdjust="spacingAndGlyphs" xml:space="preserve" style="">1</text><text x="385.97" y="378.50" font-size="6.40" textLength="3.03" lengthAdjust="spacingAndGlyphs" xml:space="preserve" style="">9</text></g>
<g fill="#2a2a2a" stroke="#2a2a2a" stroke-width="0.1"><text x="396.96" y="378.50" font-size="6.40" textLength="2.27" lengthAdjust="spacingAndGlyphs" xml:space="preserve" style="">1</text><text x="399.23" y="378.50" font-size="6.40" textLength="6.05" lengthAdjust="spacingAndGlyphs" xml:space="preserve" style="">79</text></g>
<g fill="#2a2a2a" stroke="#2a2a2a" stroke-width="0.1"><text x="413.24" y="378.50" font-size="6.40" textLength="2.27" lengthAdjust="spacingAndGlyphs" xml:space="preserve" style="">1</text><text x="415.51" y="378.50" font-size="6.40" textLength="6.05" lengthAdjust="spacingAndGlyphs" xml:space="preserve" style="">26</text></g>
<g fill="#2a2a2a" stroke="#2a2a2a" stroke-width="0.1"><text x="430.65" y="378.50" font-size="6.40" textLength="6.05" lengthAdjust="spacingAndGlyphs" xml:space="preserve" style="">67</text></g>
<g fill="#2a2a2a" stroke="#2a2a2a" stroke-width="0.1"><text x="446.93" y="378.50" font-size="6.40" textLength="6.05" lengthAdjust="spacingAndGlyphs" xml:space="preserve" style="">34</text></g>
<g fill="#2a2a2a" stroke="#2a2a2a" stroke-width="0.1"><text x="463.59" y="378.50" font-size="6.40" textLength="2.27" lengthAdjust="spacingAndGlyphs" xml:space="preserve" style="">1</text><text x="465.86" y="378.50" font-size="6.40" textLength="3.03" lengthAdjust="spacingAndGlyphs" xml:space="preserve" style="">0</text></g>
<g fill="#2a2a2a" stroke="#2a2a2a" stroke-width="0.1"><text x="481.01" y="378.50" font-size="6.40" textLength="3.03" lengthAdjust="spacingAndGlyphs" xml:space="preserve" style="">0</text></g>
<g fill="#2a2a2a" stroke="#2a2a2a" stroke-width="0.1"><text x="497.29" y="378.50" font-size="6.40" textLength="3.03" lengthAdjust="spacingAndGlyphs" xml:space="preserve" style="">0</text></g>
<g fill="#2a2a2a" stroke="#2a2a2a" stroke-width="0.1"><text x="332.68" y="385.80" font-size="6.40" textLength="6.65" lengthAdjust="spacingAndGlyphs" xml:space="preserve" style="">(0)</text></g>
<g fill="#2a2a2a" stroke="#2a2a2a" stroke-width="0.1"><text x="348.96" y="385.80" font-size="6.40" textLength="6.65" lengthAdjust="spacingAndGlyphs" xml:space="preserve" style="">(0)</text></g>
<g fill="#2a2a2a" stroke="#2a2a2a" stroke-width="0.1"><text x="365.24" y="385.80" font-size="6.40" textLength="6.65" lengthAdjust="spacingAndGlyphs" xml:space="preserve" style="">(4)</text></g>
<g fill="#2a2a2a" stroke="#2a2a2a" stroke-width="0.1"><text x="380.38" y="385.80" font-size="6.40" textLength="1.81" lengthAdjust="spacingAndGlyphs" xml:space="preserve" style="">(</text><text x="382.19" y="385.80" font-size="6.40" textLength="2.27" lengthAdjust="spacingAndGlyphs" xml:space="preserve" style="">1</text><text x="384.46" y="385.80" font-size="6.40" textLength="4.84" lengthAdjust="spacingAndGlyphs" xml:space="preserve" style="">4)</text></g>
<g fill="#2a2a2a" stroke="#2a2a2a" stroke-width="0.1"><text x="396.28" y="385.80" font-size="6.40" textLength="9.67" lengthAdjust="spacingAndGlyphs" xml:space="preserve" style="">(54)</text></g>
<g fill="#2a2a2a" stroke="#2a2a2a" stroke-width="0.1"><text x="411.43" y="385.80" font-size="6.40" textLength="1.81" lengthAdjust="spacingAndGlyphs" xml:space="preserve" style="">(</text><text x="413.24" y="385.80" font-size="6.40" textLength="2.27" lengthAdjust="spacingAndGlyphs" xml:space="preserve" style="">1</text><text x="415.51" y="385.80" font-size="6.40" textLength="7.86" lengthAdjust="spacingAndGlyphs" xml:space="preserve" style="">07)</text></g>
<g fill="#2a2a2a" stroke="#2a2a2a" stroke-width="0.1"><text x="427.71" y="385.80" font-size="6.40" textLength="1.81" lengthAdjust="spacingAndGlyphs" xml:space="preserve" style="">(</text><text x="429.52" y="385.80" font-size="6.40" textLength="2.27" lengthAdjust="spacingAndGlyphs" xml:space="preserve" style="">1</text><text x="431.79" y="385.80" font-size="6.40" textLength="7.86" lengthAdjust="spacingAndGlyphs" xml:space="preserve" style="">65)</text></g>
<g fill="#2a2a2a" stroke="#2a2a2a" stroke-width="0.1"><text x="443.99" y="385.80" font-size="6.40" textLength="1.81" lengthAdjust="spacingAndGlyphs" xml:space="preserve" style="">(</text><text x="445.80" y="385.80" font-size="6.40" textLength="2.27" lengthAdjust="spacingAndGlyphs" xml:space="preserve" style="">1</text><text x="448.07" y="385.80" font-size="6.40" textLength="7.86" lengthAdjust="spacingAndGlyphs" xml:space="preserve" style="">98)</text></g>
<g fill="#2a2a2a" stroke="#2a2a2a" stroke-width="0.1"><text x="459.89" y="385.80" font-size="6.40" textLength="12.70" lengthAdjust="spacingAndGlyphs" xml:space="preserve" style="">(222)</text></g>
<g fill="#2a2a2a" stroke="#2a2a2a" stroke-width="0.1"><text x="476.17" y="385.80" font-size="6.40" textLength="12.70" lengthAdjust="spacingAndGlyphs" xml:space="preserve" style="">(232)</text></g>
<g fill="#2a2a2a" stroke="#2a2a2a" stroke-width="0.1"><text x="492.45" y="385.80" font-size="6.40" textLength="12.70" lengthAdjust="spacingAndGlyphs" xml:space="preserve" style="">(232)</text></g>
<g fill="#2a2a2a" stroke="#2a2a2a" stroke-width="0.1"><text x="331.84" y="397.80" font-size="6.40" textLength="2.27" lengthAdjust="spacingAndGlyphs" xml:space="preserve" style="">1</text><text x="334.11" y="397.80" font-size="6.40" textLength="6.05" lengthAdjust="spacingAndGlyphs" xml:space="preserve" style="">06</text></g>
<g fill="#2a2a2a" stroke="#2a2a2a" stroke-width="0.1"><text x="349.25" y="397.80" font-size="6.40" textLength="6.05" lengthAdjust="spacingAndGlyphs" xml:space="preserve" style="">98</text></g>
<g fill="#2a2a2a" stroke="#2a2a2a" stroke-width="0.1"><text x="365.53" y="397.80" font-size="6.40" textLength="6.05" lengthAdjust="spacingAndGlyphs" xml:space="preserve" style="">92</text></g>
<g fill="#2a2a2a" stroke="#2a2a2a" stroke-width="0.1"><text x="381.81" y="397.80" font-size="6.40" textLength="6.05" lengthAdjust="spacingAndGlyphs" xml:space="preserve" style="">82</text></g>
<g fill="#2a2a2a" stroke="#2a2a2a" stroke-width="0.1"><text x="398.09" y="397.80" font-size="6.40" textLength="6.05" lengthAdjust="spacingAndGlyphs" xml:space="preserve" style="">70</text></g>
<g fill="#2a2a2a" stroke="#2a2a2a" stroke-width="0.1"><text x="414.37" y="397.80" font-size="6.40" textLength="6.05" lengthAdjust="spacingAndGlyphs" xml:space="preserve" style="">54</text></g>
<g fill="#2a2a2a" stroke="#2a2a2a" stroke-width="0.1"><text x="430.65" y="397.80" font-size="6.40" textLength="6.05" lengthAdjust="spacingAndGlyphs" xml:space="preserve" style="">40</text></g>
<g fill="#2a2a2a" stroke="#2a2a2a" stroke-width="0.1"><text x="446.93" y="397.80" font-size="6.40" textLength="6.05" lengthAdjust="spacingAndGlyphs" xml:space="preserve" style="">29</text></g>
<g fill="#2a2a2a" stroke="#2a2a2a" stroke-width="0.1"><text x="464.73" y="397.80" font-size="6.40" textLength="3.03" lengthAdjust="spacingAndGlyphs" xml:space="preserve" style="">5</text></g>
<g fill="#2a2a2a" stroke="#2a2a2a" stroke-width="0.1"><text x="481.01" y="397.80" font-size="6.40" textLength="3.03" lengthAdjust="spacingAndGlyphs" xml:space="preserve" style="">0</text></g>
<g fill="#2a2a2a" stroke="#2a2a2a" stroke-width="0.1"><text x="497.29" y="397.80" font-size="6.40" textLength="3.03" lengthAdjust="spacingAndGlyphs" xml:space="preserve" style="">0</text></g>
<g fill="#2a2a2a" stroke="#2a2a2a" stroke-width="0.1"><text x="332.68" y="405.10" font-size="6.40" textLength="6.65" lengthAdjust="spacingAndGlyphs" xml:space="preserve" style="">(0)</text></g>
<g fill="#2a2a2a" stroke="#2a2a2a" stroke-width="0.1"><text x="348.96" y="405.10" font-size="6.40" textLength="6.65" lengthAdjust="spacingAndGlyphs" xml:space="preserve" style="">(0)</text></g>
<g fill="#2a2a2a" stroke="#2a2a2a" stroke-width="0.1"><text x="365.24" y="405.10" font-size="6.40" textLength="6.65" lengthAdjust="spacingAndGlyphs" xml:space="preserve" style="">(0)</text></g>
<g fill="#2a2a2a" stroke="#2a2a2a" stroke-width="0.1"><text x="381.52" y="405.10" font-size="6.40" textLength="6.65" lengthAdjust="spacingAndGlyphs" xml:space="preserve" style="">(4)</text></g>
<g fill="#2a2a2a" stroke="#2a2a2a" stroke-width="0.1"><text x="397.04" y="405.10" font-size="6.40" textLength="1.81" lengthAdjust="spacingAndGlyphs" xml:space="preserve" style="">(</text><text x="398.85" y="405.10" font-size="6.40" textLength="2.27" lengthAdjust="spacingAndGlyphs" xml:space="preserve" style="">1</text><text x="401.12" y="405.10" font-size="6.40" textLength="2.27" lengthAdjust="spacingAndGlyphs" xml:space="preserve" style="">1</text><text x="403.39" y="405.10" font-size="6.40" textLength="1.81" lengthAdjust="spacingAndGlyphs" xml:space="preserve" style="">)</text></g>
<g fill="#2a2a2a" stroke="#2a2a2a" stroke-width="0.1"><text x="412.56" y="405.10" font-size="6.40" textLength="9.67" lengthAdjust="spacingAndGlyphs" xml:space="preserve" style="">(24)</text></g>
<g fill="#2a2a2a" stroke="#2a2a2a" stroke-width="0.1"><text x="428.84" y="405.10" font-size="6.40" textLength="9.67" lengthAdjust="spacingAndGlyphs" xml:space="preserve" style="">(35)</text></g>
<g fill="#2a2a2a" stroke="#2a2a2a" stroke-width="0.1"><text x="445.12" y="405.10" font-size="6.40" textLength="9.67" lengthAdjust="spacingAndGlyphs" xml:space="preserve" style="">(46)</text></g>
<g fill="#2a2a2a" stroke="#2a2a2a" stroke-width="0.1"><text x="461.40" y="405.10" font-size="6.40" textLength="9.67" lengthAdjust="spacingAndGlyphs" xml:space="preserve" style="">(70)</text></g>
<g fill="#2a2a2a" stroke="#2a2a2a" stroke-width="0.1"><text x="477.68" y="405.10" font-size="6.40" textLength="9.67" lengthAdjust="spacingAndGlyphs" xml:space="preserve" style="">(75)</text></g>
<g fill="#2a2a2a" stroke="#2a2a2a" stroke-width="0.1"><text x="493.96" y="405.10" font-size="6.40" textLength="9.67" lengthAdjust="spacingAndGlyphs" xml:space="preserve" style="">(75)</text></g>
<line x1="77.90" y1="439.00" x2="77.90" y2="534.00" stroke="#1e1e1e" stroke-width="1.2"/>
<line x1="77.30" y1="533.40" x2="251.50" y2="533.40" stroke="#1e1e1e" stroke-width="1.2"/>
<line x1="75.10" y1="533.30" x2="77.90" y2="533.30" stroke="#1e1e1e" stroke-width="1.2"/>
<g fill="#2a2a2a" stroke="#2a2a2a" stroke-width="0.1"><text x="60.59" y="536.24" font-size="8.40" textLength="10.51" lengthAdjust="spacingAndGlyphs" xml:space="preserve" style="">0.0</text></g>
<line x1="75.10" y1="515.36" x2="77.90" y2="515.36" stroke="#1e1e1e" stroke-width="1.2"/>
<g fill="#2a2a2a" stroke="#2a2a2a" stroke-width="0.1"><text x="60.59" y="518.30" font-size="8.40" textLength="10.51" lengthAdjust="spacingAndGlyphs" xml:space="preserve" style="">0.2</text></g>
<line x1="75.10" y1="497.42" x2="77.90" y2="497.42" stroke="#1e1e1e" stroke-width="1.2"/>
<g fill="#2a2a2a" stroke="#2a2a2a" stroke-width="0.1"><text x="60.59" y="500.36" font-size="8.40" textLength="10.51" lengthAdjust="spacingAndGlyphs" xml:space="preserve" style="">0.4</text></g>
<line x1="75.10" y1="479.48" x2="77.90" y2="479.48" stroke="#1e1e1e" stroke-width="1.2"/>
<g fill="#2a2a2a" stroke="#2a2a2a" stroke-width="0.1"><text x="60.59" y="482.42" font-size="8.40" textLength="10.51" lengthAdjust="spacingAndGlyphs" xml:space="preserve" style="">0.6</text></g>
<line x1="75.10" y1="461.54" x2="77.90" y2="461.54" stroke="#1e1e1e" stroke-width="1.2"/>
<g fill="#2a2a2a" stroke="#2a2a2a" stroke-width="0.1"><text x="60.59" y="464.48" font-size="8.40" textLength="10.51" lengthAdjust="spacingAndGlyphs" xml:space="preserve" style="">0.8</text></g>
<line x1="75.10" y1="443.60" x2="77.90" y2="443.60" stroke="#1e1e1e" stroke-width="1.2"/>
<g fill="#2a2a2a" stroke="#2a2a2a" stroke-width="0.1"><text x="61.64" y="446.54" font-size="8.40" textLength="3.15" lengthAdjust="spacingAndGlyphs" xml:space="preserve" style="">1</text><text x="64.80" y="446.54" font-size="8.40" textLength="6.30" lengthAdjust="spacingAndGlyphs" xml:space="preserve" style="">.0</text></g>
<line x1="78.00" y1="533.40" x2="78.00" y2="536.20" stroke="#1e1e1e" stroke-width="1.2"/>
<g fill="#2a2a2a" stroke="#2a2a2a" stroke-width="0.1"><text x="75.90" y="545.60" font-size="8.40" textLength="4.20" lengthAdjust="spacingAndGlyphs" xml:space="preserve" style="">0</text></g>
<line x1="94.85" y1="533.40" x2="94.85" y2="536.20" stroke="#1e1e1e" stroke-width="1.2"/>
<g fill="#2a2a2a" stroke="#2a2a2a" stroke-width="0.1"><text x="89.07" y="545.60" font-size="8.40" textLength="3.15" lengthAdjust="spacingAndGlyphs" xml:space="preserve" style="">1</text><text x="92.22" y="545.60" font-size="8.40" textLength="8.41" lengthAdjust="spacingAndGlyphs" xml:space="preserve" style="">00</text></g>
<line x1="111.70" y1="533.40" x2="111.70" y2="536.20" stroke="#1e1e1e" stroke-width="1.2"/>
<g fill="#2a2a2a" stroke="#2a2a2a" stroke-width="0.1"><text x="105.39" y="545.60" font-size="8.40" textLength="12.61" lengthAdjust="spacingAndGlyphs" xml:space="preserve" style="">200</text></g>
<line x1="128.55" y1="533.40" x2="128.55" y2="536.20" stroke="#1e1e1e" stroke-width="1.2"/>
<g fill="#2a2a2a" stroke="#2a2a2a" stroke-width="0.1"><text x="122.24" y="545.60" font-size="8.40" textLength="12.61" lengthAdjust="spacingAndGlyphs" xml:space="preserve" style="">300</text></g>
<line x1="145.40" y1="533.40" x2="145.40" y2="536.20" stroke="#1e1e1e" stroke-width="1.2"/>
<g fill="#2a2a2a" stroke="#2a2a2a" stroke-width="0.1"><text x="139.09" y="545.60" font-size="8.40" textLength="12.61" lengthAdjust="spacingAndGlyphs" xml:space="preserve" style="">400</text></g>
<line x1="162.25" y1="533.40" x2="162.25" y2="536.20" stroke="#1e1e1e" stroke-width="1.2"/>
<g fill="#2a2a2a" stroke="#2a2a2a" stroke-width="0.1"><text x="155.94" y="545.60" font-size="8.40" textLength="12.61" lengthAdjust="spacingAndGlyphs" xml:space="preserve" style="">500</text></g>
<line x1="179.10" y1="533.40" x2="179.10" y2="536.20" stroke="#1e1e1e" stroke-width="1.2"/>
<g fill="#2a2a2a" stroke="#2a2a2a" stroke-width="0.1"><text x="172.79" y="545.60" font-size="8.40" textLength="12.61" lengthAdjust="spacingAndGlyphs" xml:space="preserve" style="">600</text></g>
<line x1="195.95" y1="533.40" x2="195.95" y2="536.20" stroke="#1e1e1e" stroke-width="1.2"/>
<g fill="#2a2a2a" stroke="#2a2a2a" stroke-width="0.1"><text x="189.64" y="545.60" font-size="8.40" textLength="12.61" lengthAdjust="spacingAndGlyphs" xml:space="preserve" style="">700</text></g>
<line x1="212.80" y1="533.40" x2="212.80" y2="536.20" stroke="#1e1e1e" stroke-width="1.2"/>
<g fill="#2a2a2a" stroke="#2a2a2a" stroke-width="0.1"><text x="206.49" y="545.60" font-size="8.40" textLength="12.61" lengthAdjust="spacingAndGlyphs" xml:space="preserve" style="">800</text></g>
<line x1="229.65" y1="533.40" x2="229.65" y2="536.20" stroke="#1e1e1e" stroke-width="1.2"/>
<g fill="#2a2a2a" stroke="#2a2a2a" stroke-width="0.1"><text x="223.34" y="545.60" font-size="8.40" textLength="12.61" lengthAdjust="spacingAndGlyphs" xml:space="preserve" style="">900</text></g>
<line x1="246.50" y1="533.40" x2="246.50" y2="536.20" stroke="#1e1e1e" stroke-width="1.2"/>
<g fill="#2a2a2a" stroke="#2a2a2a" stroke-width="0.1"><text x="238.62" y="545.60" font-size="8.40" textLength="3.15" lengthAdjust="spacingAndGlyphs" xml:space="preserve" style="">1</text><text x="241.77" y="545.60" font-size="8.40" textLength="12.61" lengthAdjust="spacingAndGlyphs" xml:space="preserve" style="">000</text></g>
<g fill="#000" stroke="#000" stroke-width="0.15" font-weight="bold"><text x="7.00" y="435.00" font-size="11.50" textLength="7.67" lengthAdjust="spacingAndGlyphs" xml:space="preserve" style="">E</text></g>
<g fill="#2a2a2a" stroke="#2a2a2a" stroke-width="0.15" transform="translate(43.30,486.10) rotate(-90)"><text x="-40.10" y="0.00" font-size="10.40" textLength="80.20" lengthAdjust="spacingAndGlyphs" xml:space="preserve">Cumulative incidence of</text></g>
<g fill="#2a2a2a" stroke="#2a2a2a" stroke-width="0.15" transform="translate(54.40,486.60) rotate(-90)"><text x="-18.55" y="0.00" font-size="10.40" textLength="37.10" lengthAdjust="spacingAndGlyphs" xml:space="preserve">relapse (%)</text></g>
<g fill="#2a2a2a" stroke="#2a2a2a" stroke-width="0.2"><text x="111.50" y="558.90" font-size="9.00" textLength="105.20" lengthAdjust="spacingAndGlyphs" xml:space="preserve" style="">Post-transplantation time (days)</text></g>
<path d="M89.00,533.40 L89.80,523.40 L91.60,517.40 L99.40,517.40 L99.40,507.90 L104.50,507.90 L104.50,504.40 L117.50,504.40 L117.50,500.00 L126.20,500.00 L126.20,491.40 L134.80,491.40 L134.80,488.00 L144.30,488.00 L144.30,484.50 L150.40,484.50 L150.40,481.50 L213.60,481.50 L213.60,481.50 L213.60,512.20 L213.60,512.20 L150.40,512.20 L150.40,514.80 L144.30,514.80 L144.30,524.20 L125.50,524.20 L125.50,526.60 L91.00,526.60 L89.00,533.40 Z" fill="#edc4ca" stroke="none"/>
<path d="M90.70,533.40 L107.00,529.50 L134.80,527.00 L175.60,527.00 L175.60,525.20 L225.40,525.20 L225.40,525.20 L225.40,530.00 L225.40,530.00 L175.60,530.00 L175.60,531.50 L150.00,531.50 L90.70,533.40 Z" fill="#c8d8e5" stroke="none"/>
<path d="M90.20,533.40 L93.20,531.60 L107.10,531.20 H108.60 V530.40 H116.30 V529.90 H133.20 V529.30 H148.60 V528.80 H167.00 V528.30 H175.60 V527.20 H225.40 V527.20" fill="none" stroke="#124b80" stroke-width="1.5" stroke-linejoin="miter"/>
<path d="M89.00,533.40 L90.70,527.80 H98.50 V527.80 L102.00,519.60 H104.50 V517.40 H117.50 V514.80 H120.10 V511.70 H124.40 V508.50 H126.20 V506.10 H134.00 V503.20 H142.60 V499.20 H149.50 V495.90 H213.60 V495.90" fill="none" stroke="#c5112f" stroke-width="1.5" stroke-linejoin="miter"/>
<g fill="#2a2a2a" stroke="#2a2a2a" stroke-width="0.08"><text x="84.70" y="444.80" font-size="6.40" textLength="28.15" lengthAdjust="spacingAndGlyphs" xml:space="preserve" style="">Gray's test </text><text x="112.85" y="444.80" font-size="6.40" textLength="3.74" lengthAdjust="spacingAndGlyphs" xml:space="preserve" style="font-style:italic;">P</text><text x="116.59" y="444.80" font-size="6.40" textLength="14.17" lengthAdjust="spacingAndGlyphs" xml:space="preserve" style="">&lt;0.00</text><text x="130.76" y="444.80" font-size="6.40" textLength="2.34" lengthAdjust="spacingAndGlyphs" xml:space="preserve" style="">1</text></g>
<line x1="85.20" y1="455.00" x2="94.80" y2="455.00" stroke="#124b80" stroke-width="1.6"/>
<g fill="#2a2a2a" stroke="#2a2a2a" stroke-width="0.08"><text x="97.90" y="457.30" font-size="6.40" textLength="66.50" lengthAdjust="spacingAndGlyphs" xml:space="preserve" style="">Traditional MRD negativity</text></g>
<line x1="85.20" y1="463.60" x2="94.80" y2="463.60" stroke="#c5112f" stroke-width="1.6"/>
<g fill="#2a2a2a" stroke="#2a2a2a" stroke-width="0.08"><text x="97.90" y="466.00" font-size="6.40" textLength="64.80" lengthAdjust="spacingAndGlyphs" xml:space="preserve" style="">Traditional MRD positivity</text></g>
<g fill="#2a2a2a" stroke="#2a2a2a" stroke-width="0.1"><text x="31.30" y="572.50" font-size="6.40" textLength="35.90" lengthAdjust="spacingAndGlyphs" xml:space="preserve" style="">Number at risk</text></g>
<g fill="#2a2a2a" stroke="#2a2a2a" stroke-width="0.1"><text x="20.70" y="581.00" font-size="6.40" textLength="46.50" lengthAdjust="spacingAndGlyphs" xml:space="preserve" style="">(number censored)</text></g>
<g fill="#2a2a2a" stroke="#2a2a2a" stroke-width="0.1"><text x="8.00" y="591.30" font-size="6.40" textLength="58.80" lengthAdjust="spacingAndGlyphs" xml:space="preserve" style="">Traditional MRD negativity</text></g>
<g fill="#2a2a2a" stroke="#2a2a2a" stroke-width="0.1"><text x="9.50" y="608.90" font-size="6.40" textLength="57.30" lengthAdjust="spacingAndGlyphs" xml:space="preserve" style="">Traditional MRD positivity</text></g>
<g fill="#2a2a2a" stroke="#2a2a2a" stroke-width="0.1"><text x="73.46" y="587.80" font-size="6.40" textLength="9.08" lengthAdjust="spacingAndGlyphs" xml:space="preserve" style="">327</text></g>
<g fill="#2a2a2a" stroke="#2a2a2a" stroke-width="0.1"><text x="90.69" y="587.80" font-size="6.40" textLength="3.03" lengthAdjust="spacingAndGlyphs" xml:space="preserve" style="">3</text><text x="93.72" y="587.80" font-size="6.40" textLength="2.27" lengthAdjust="spacingAndGlyphs" xml:space="preserve" style="">1</text><text x="95.98" y="587.80" font-size="6.40" textLength="3.03" lengthAdjust="spacingAndGlyphs" xml:space="preserve" style="">2</text></g>
<g fill="#2a2a2a" stroke="#2a2a2a" stroke-width="0.1"><text x="107.16" y="587.80" font-size="6.40" textLength="9.08" lengthAdjust="spacingAndGlyphs" xml:space="preserve" style="">299</text></g>
<g fill="#2a2a2a" stroke="#2a2a2a" stroke-width="0.1"><text x="124.01" y="587.80" font-size="6.40" textLength="9.08" lengthAdjust="spacingAndGlyphs" xml:space="preserve" style="">280</text></g>
<g fill="#2a2a2a" stroke="#2a2a2a" stroke-width="0.1"><text x="141.24" y="587.80" font-size="6.40" textLength="6.05" lengthAdjust="spacingAndGlyphs" xml:space="preserve" style="">23</text><text x="147.29" y="587.80" font-size="6.40" textLength="2.27" lengthAdjust="spacingAndGlyphs" xml:space="preserve" style="">1</text></g>
<g fill="#2a2a2a" stroke="#2a2a2a" stroke-width="0.1"><text x="158.09" y="587.80" font-size="6.40" textLength="2.27" lengthAdjust="spacingAndGlyphs" xml:space="preserve" style="">1</text><text x="160.36" y="587.80" font-size="6.40" textLength="6.05" lengthAdjust="spacingAndGlyphs" xml:space="preserve" style="">68</text></g>
<g fill="#2a2a2a" stroke="#2a2a2a" stroke-width="0.1"><text x="174.94" y="587.80" font-size="6.40" textLength="2.27" lengthAdjust="spacingAndGlyphs" xml:space="preserve" style="">1</text><text x="177.21" y="587.80" font-size="6.40" textLength="6.05" lengthAdjust="spacingAndGlyphs" xml:space="preserve" style="">00</text></g>
<g fill="#2a2a2a" stroke="#2a2a2a" stroke-width="0.1"><text x="192.92" y="587.80" font-size="6.40" textLength="6.05" lengthAdjust="spacingAndGlyphs" xml:space="preserve" style="">59</text></g>
<g fill="#2a2a2a" stroke="#2a2a2a" stroke-width="0.1"><text x="210.15" y="587.80" font-size="6.40" textLength="2.27" lengthAdjust="spacingAndGlyphs" xml:space="preserve" style="">1</text><text x="212.42" y="587.80" font-size="6.40" textLength="3.03" lengthAdjust="spacingAndGlyphs" xml:space="preserve" style="">3</text></g>
<g fill="#2a2a2a" stroke="#2a2a2a" stroke-width="0.1"><text x="228.14" y="587.80" font-size="6.40" textLength="3.03" lengthAdjust="spacingAndGlyphs" xml:space="preserve" style="">0</text></g>
<g fill="#2a2a2a" stroke="#2a2a2a" stroke-width="0.1"><text x="244.99" y="587.80" font-size="6.40" textLength="3.03" lengthAdjust="spacingAndGlyphs" xml:space="preserve" style="">0</text></g>
<g fill="#2a2a2a" stroke="#2a2a2a" stroke-width="0.1"><text x="74.68" y="595.30" font-size="6.40" textLength="6.65" lengthAdjust="spacingAndGlyphs" xml:space="preserve" style="">(0)</text></g>
<g fill="#2a2a2a" stroke="#2a2a2a" stroke-width="0.1"><text x="90.39" y="595.30" font-size="6.40" textLength="1.81" lengthAdjust="spacingAndGlyphs" xml:space="preserve" style="">(</text><text x="92.20" y="595.30" font-size="6.40" textLength="2.27" lengthAdjust="spacingAndGlyphs" xml:space="preserve" style="">1</text><text x="94.47" y="595.30" font-size="6.40" textLength="4.84" lengthAdjust="spacingAndGlyphs" xml:space="preserve" style="">0)</text></g>
<g fill="#2a2a2a" stroke="#2a2a2a" stroke-width="0.1"><text x="106.86" y="595.30" font-size="6.40" textLength="9.67" lengthAdjust="spacingAndGlyphs" xml:space="preserve" style="">(20)</text></g>
<g fill="#2a2a2a" stroke="#2a2a2a" stroke-width="0.1"><text x="123.71" y="595.30" font-size="6.40" textLength="9.67" lengthAdjust="spacingAndGlyphs" xml:space="preserve" style="">(36)</text></g>
<g fill="#2a2a2a" stroke="#2a2a2a" stroke-width="0.1"><text x="140.56" y="595.30" font-size="6.40" textLength="9.67" lengthAdjust="spacingAndGlyphs" xml:space="preserve" style="">(83)</text></g>
<g fill="#2a2a2a" stroke="#2a2a2a" stroke-width="0.1"><text x="156.28" y="595.30" font-size="6.40" textLength="1.81" lengthAdjust="spacingAndGlyphs" xml:space="preserve" style="">(</text><text x="158.09" y="595.30" font-size="6.40" textLength="2.27" lengthAdjust="spacingAndGlyphs" xml:space="preserve" style="">1</text><text x="160.36" y="595.30" font-size="6.40" textLength="7.86" lengthAdjust="spacingAndGlyphs" xml:space="preserve" style="">45)</text></g>
<g fill="#2a2a2a" stroke="#2a2a2a" stroke-width="0.1"><text x="173.13" y="595.30" font-size="6.40" textLength="4.84" lengthAdjust="spacingAndGlyphs" xml:space="preserve" style="">(2</text><text x="177.97" y="595.30" font-size="6.40" textLength="2.27" lengthAdjust="spacingAndGlyphs" xml:space="preserve" style="">1</text><text x="180.23" y="595.30" font-size="6.40" textLength="4.84" lengthAdjust="spacingAndGlyphs" xml:space="preserve" style="">0)</text></g>
<g fill="#2a2a2a" stroke="#2a2a2a" stroke-width="0.1"><text x="189.98" y="595.30" font-size="6.40" textLength="7.86" lengthAdjust="spacingAndGlyphs" xml:space="preserve" style="">(25</text><text x="197.84" y="595.30" font-size="6.40" textLength="2.27" lengthAdjust="spacingAndGlyphs" xml:space="preserve" style="">1</text><text x="200.11" y="595.30" font-size="6.40" textLength="1.81" lengthAdjust="spacingAndGlyphs" xml:space="preserve" style="">)</text></g>
<g fill="#2a2a2a" stroke="#2a2a2a" stroke-width="0.1"><text x="206.45" y="595.30" font-size="6.40" textLength="12.70" lengthAdjust="spacingAndGlyphs" xml:space="preserve" style="">(297)</text></g>
<g fill="#2a2a2a" stroke="#2a2a2a" stroke-width="0.1"><text x="223.68" y="595.30" font-size="6.40" textLength="4.84" lengthAdjust="spacingAndGlyphs" xml:space="preserve" style="">(3</text><text x="228.52" y="595.30" font-size="6.40" textLength="2.27" lengthAdjust="spacingAndGlyphs" xml:space="preserve" style="">1</text><text x="230.78" y="595.30" font-size="6.40" textLength="4.84" lengthAdjust="spacingAndGlyphs" xml:space="preserve" style="">0)</text></g>
<g fill="#2a2a2a" stroke="#2a2a2a" stroke-width="0.1"><text x="240.53" y="595.30" font-size="6.40" textLength="4.84" lengthAdjust="spacingAndGlyphs" xml:space="preserve" style="">(3</text><text x="245.37" y="595.30" font-size="6.40" textLength="2.27" lengthAdjust="spacingAndGlyphs" xml:space="preserve" style="">1</text><text x="247.63" y="595.30" font-size="6.40" textLength="4.84" lengthAdjust="spacingAndGlyphs" xml:space="preserve" style="">0)</text></g>
<g fill="#2a2a2a" stroke="#2a2a2a" stroke-width="0.1"><text x="74.97" y="605.80" font-size="6.40" textLength="6.05" lengthAdjust="spacingAndGlyphs" xml:space="preserve" style="">33</text></g>
<g fill="#2a2a2a" stroke="#2a2a2a" stroke-width="0.1"><text x="92.20" y="605.80" font-size="6.40" textLength="3.03" lengthAdjust="spacingAndGlyphs" xml:space="preserve" style="">3</text><text x="95.23" y="605.80" font-size="6.40" textLength="2.27" lengthAdjust="spacingAndGlyphs" xml:space="preserve" style="">1</text></g>
<g fill="#2a2a2a" stroke="#2a2a2a" stroke-width="0.1"><text x="108.67" y="605.80" font-size="6.40" textLength="6.05" lengthAdjust="spacingAndGlyphs" xml:space="preserve" style="">27</text></g>
<g fill="#2a2a2a" stroke="#2a2a2a" stroke-width="0.1"><text x="125.90" y="605.80" font-size="6.40" textLength="3.03" lengthAdjust="spacingAndGlyphs" xml:space="preserve" style="">2</text><text x="128.93" y="605.80" font-size="6.40" textLength="2.27" lengthAdjust="spacingAndGlyphs" xml:space="preserve" style="">1</text></g>
<g fill="#2a2a2a" stroke="#2a2a2a" stroke-width="0.1"><text x="142.75" y="605.80" font-size="6.40" textLength="2.27" lengthAdjust="spacingAndGlyphs" xml:space="preserve" style="">1</text><text x="145.02" y="605.80" font-size="6.40" textLength="3.03" lengthAdjust="spacingAndGlyphs" xml:space="preserve" style="">8</text></g>
<g fill="#2a2a2a" stroke="#2a2a2a" stroke-width="0.1"><text x="159.60" y="605.80" font-size="6.40" textLength="2.27" lengthAdjust="spacingAndGlyphs" xml:space="preserve" style="">1</text><text x="161.87" y="605.80" font-size="6.40" textLength="3.03" lengthAdjust="spacingAndGlyphs" xml:space="preserve" style="">2</text></g>
<g fill="#2a2a2a" stroke="#2a2a2a" stroke-width="0.1"><text x="177.59" y="605.80" font-size="6.40" textLength="3.03" lengthAdjust="spacingAndGlyphs" xml:space="preserve" style="">7</text></g>
<g fill="#2a2a2a" stroke="#2a2a2a" stroke-width="0.1"><text x="194.44" y="605.80" font-size="6.40" textLength="3.03" lengthAdjust="spacingAndGlyphs" xml:space="preserve" style="">4</text></g>
<g fill="#2a2a2a" stroke="#2a2a2a" stroke-width="0.1"><text x="211.67" y="605.80" font-size="6.40" textLength="2.27" lengthAdjust="spacingAndGlyphs" xml:space="preserve" style="">1</text></g>
<g fill="#2a2a2a" stroke="#2a2a2a" stroke-width="0.1"><text x="228.14" y="605.80" font-size="6.40" textLength="3.03" lengthAdjust="spacingAndGlyphs" xml:space="preserve" style="">0</text></g>
<g fill="#2a2a2a" stroke="#2a2a2a" stroke-width="0.1"><text x="244.99" y="605.80" font-size="6.40" textLength="3.03" lengthAdjust="spacingAndGlyphs" xml:space="preserve" style="">0</text></g>
<g fill="#2a2a2a" stroke="#2a2a2a" stroke-width="0.1"><text x="74.68" y="613.60" font-size="6.40" textLength="6.65" lengthAdjust="spacingAndGlyphs" xml:space="preserve" style="">(0)</text></g>
<g fill="#2a2a2a" stroke="#2a2a2a" stroke-width="0.1"><text x="91.53" y="613.60" font-size="6.40" textLength="6.65" lengthAdjust="spacingAndGlyphs" xml:space="preserve" style="">(0)</text></g>
<g fill="#2a2a2a" stroke="#2a2a2a" stroke-width="0.1"><text x="108.38" y="613.60" font-size="6.40" textLength="6.65" lengthAdjust="spacingAndGlyphs" xml:space="preserve" style="">(0)</text></g>
<g fill="#2a2a2a" stroke="#2a2a2a" stroke-width="0.1"><text x="125.23" y="613.60" font-size="6.40" textLength="6.65" lengthAdjust="spacingAndGlyphs" xml:space="preserve" style="">(2)</text></g>
<g fill="#2a2a2a" stroke="#2a2a2a" stroke-width="0.1"><text x="142.08" y="613.60" font-size="6.40" textLength="6.65" lengthAdjust="spacingAndGlyphs" xml:space="preserve" style="">(3)</text></g>
<g fill="#2a2a2a" stroke="#2a2a2a" stroke-width="0.1"><text x="158.93" y="613.60" font-size="6.40" textLength="6.65" lengthAdjust="spacingAndGlyphs" xml:space="preserve" style="">(8)</text></g>
<g fill="#2a2a2a" stroke="#2a2a2a" stroke-width="0.1"><text x="174.64" y="613.60" font-size="6.40" textLength="1.81" lengthAdjust="spacingAndGlyphs" xml:space="preserve" style="">(</text><text x="176.45" y="613.60" font-size="6.40" textLength="2.27" lengthAdjust="spacingAndGlyphs" xml:space="preserve" style="">1</text><text x="178.72" y="613.60" font-size="6.40" textLength="4.84" lengthAdjust="spacingAndGlyphs" xml:space="preserve" style="">3)</text></g>
<g fill="#2a2a2a" stroke="#2a2a2a" stroke-width="0.1"><text x="191.49" y="613.60" font-size="6.40" textLength="1.81" lengthAdjust="spacingAndGlyphs" xml:space="preserve" style="">(</text><text x="193.30" y="613.60" font-size="6.40" textLength="2.27" lengthAdjust="spacingAndGlyphs" xml:space="preserve" style="">1</text><text x="195.57" y="613.60" font-size="6.40" textLength="4.84" lengthAdjust="spacingAndGlyphs" xml:space="preserve" style="">6)</text></g>
<g fill="#2a2a2a" stroke="#2a2a2a" stroke-width="0.1"><text x="208.34" y="613.60" font-size="6.40" textLength="1.81" lengthAdjust="spacingAndGlyphs" xml:space="preserve" style="">(</text><text x="210.15" y="613.60" font-size="6.40" textLength="2.27" lengthAdjust="spacingAndGlyphs" xml:space="preserve" style="">1</text><text x="212.42" y="613.60" font-size="6.40" textLength="4.84" lengthAdjust="spacingAndGlyphs" xml:space="preserve" style="">9)</text></g>
<g fill="#2a2a2a" stroke="#2a2a2a" stroke-width="0.1"><text x="224.81" y="613.60" font-size="6.40" textLength="9.67" lengthAdjust="spacingAndGlyphs" xml:space="preserve" style="">(20)</text></g>
<g fill="#2a2a2a" stroke="#2a2a2a" stroke-width="0.1"><text x="241.66" y="613.60" font-size="6.40" textLength="9.67" lengthAdjust="spacingAndGlyphs" xml:space="preserve" style="">(20)</text></g>
<line x1="336.20" y1="438.60" x2="336.20" y2="534.20" stroke="#1e1e1e" stroke-width="1.2"/>
<line x1="335.60" y1="533.60" x2="510.40" y2="533.60" stroke="#1e1e1e" stroke-width="1.2"/>
<line x1="333.40" y1="533.50" x2="336.20" y2="533.50" stroke="#1e1e1e" stroke-width="1.2"/>
<g fill="#2a2a2a" stroke="#2a2a2a" stroke-width="0.1"><text x="320.59" y="536.44" font-size="8.40" textLength="10.51" lengthAdjust="spacingAndGlyphs" xml:space="preserve" style="">0.0</text></g>
<line x1="333.40" y1="515.38" x2="336.20" y2="515.38" stroke="#1e1e1e" stroke-width="1.2"/>
<g fill="#2a2a2a" stroke="#2a2a2a" stroke-width="0.1"><text x="320.59" y="518.32" font-size="8.40" textLength="10.51" lengthAdjust="spacingAndGlyphs" xml:space="preserve" style="">0.2</text></g>
<line x1="333.40" y1="497.26" x2="336.20" y2="497.26" stroke="#1e1e1e" stroke-width="1.2"/>
<g fill="#2a2a2a" stroke="#2a2a2a" stroke-width="0.1"><text x="320.59" y="500.20" font-size="8.40" textLength="10.51" lengthAdjust="spacingAndGlyphs" xml:space="preserve" style="">0.4</text></g>
<line x1="333.40" y1="479.14" x2="336.20" y2="479.14" stroke="#1e1e1e" stroke-width="1.2"/>
<g fill="#2a2a2a" stroke="#2a2a2a" stroke-width="0.1"><text x="320.59" y="482.08" font-size="8.40" textLength="10.51" lengthAdjust="spacingAndGlyphs" xml:space="preserve" style="">0.6</text></g>
<line x1="333.40" y1="461.02" x2="336.20" y2="461.02" stroke="#1e1e1e" stroke-width="1.2"/>
<g fill="#2a2a2a" stroke="#2a2a2a" stroke-width="0.1"><text x="320.59" y="463.96" font-size="8.40" textLength="10.51" lengthAdjust="spacingAndGlyphs" xml:space="preserve" style="">0.8</text></g>
<line x1="333.40" y1="442.90" x2="336.20" y2="442.90" stroke="#1e1e1e" stroke-width="1.2"/>
<g fill="#2a2a2a" stroke="#2a2a2a" stroke-width="0.1"><text x="321.64" y="445.84" font-size="8.40" textLength="3.15" lengthAdjust="spacingAndGlyphs" xml:space="preserve" style="">1</text><text x="324.80" y="445.84" font-size="8.40" textLength="6.30" lengthAdjust="spacingAndGlyphs" xml:space="preserve" style="">.0</text></g>
<line x1="336.30" y1="533.60" x2="336.30" y2="536.40" stroke="#1e1e1e" stroke-width="1.2"/>
<g fill="#2a2a2a" stroke="#2a2a2a" stroke-width="0.1"><text x="334.20" y="545.60" font-size="8.40" textLength="4.20" lengthAdjust="spacingAndGlyphs" xml:space="preserve" style="">0</text></g>
<line x1="353.07" y1="533.60" x2="353.07" y2="536.40" stroke="#1e1e1e" stroke-width="1.2"/>
<g fill="#2a2a2a" stroke="#2a2a2a" stroke-width="0.1"><text x="347.29" y="545.60" font-size="8.40" textLength="3.15" lengthAdjust="spacingAndGlyphs" xml:space="preserve" style="">1</text><text x="350.44" y="545.60" font-size="8.40" textLength="8.41" lengthAdjust="spacingAndGlyphs" xml:space="preserve" style="">00</text></g>
<line x1="369.84" y1="533.60" x2="369.84" y2="536.40" stroke="#1e1e1e" stroke-width="1.2"/>
<g fill="#2a2a2a" stroke="#2a2a2a" stroke-width="0.1"><text x="363.53" y="545.60" font-size="8.40" textLength="12.61" lengthAdjust="spacingAndGlyphs" xml:space="preserve" style="">200</text></g>
<line x1="386.61" y1="533.60" x2="386.61" y2="536.40" stroke="#1e1e1e" stroke-width="1.2"/>
<g fill="#2a2a2a" stroke="#2a2a2a" stroke-width="0.1"><text x="380.30" y="545.60" font-size="8.40" textLength="12.61" lengthAdjust="spacingAndGlyphs" xml:space="preserve" style="">300</text></g>
<line x1="403.38" y1="533.60" x2="403.38" y2="536.40" stroke="#1e1e1e" stroke-width="1.2"/>
<g fill="#2a2a2a" stroke="#2a2a2a" stroke-width="0.1"><text x="397.07" y="545.60" font-size="8.40" textLength="12.61" lengthAdjust="spacingAndGlyphs" xml:space="preserve" style="">400</text></g>
<line x1="420.15" y1="533.60" x2="420.15" y2="536.40" stroke="#1e1e1e" stroke-width="1.2"/>
<g fill="#2a2a2a" stroke="#2a2a2a" stroke-width="0.1"><text x="413.84" y="545.60" font-size="8.40" textLength="12.61" lengthAdjust="spacingAndGlyphs" xml:space="preserve" style="">500</text></g>
<line x1="436.92" y1="533.60" x2="436.92" y2="536.40" stroke="#1e1e1e" stroke-width="1.2"/>
<g fill="#2a2a2a" stroke="#2a2a2a" stroke-width="0.1"><text x="430.61" y="545.60" font-size="8.40" textLength="12.61" lengthAdjust="spacingAndGlyphs" xml:space="preserve" style="">600</text></g>
<line x1="453.69" y1="533.60" x2="453.69" y2="536.40" stroke="#1e1e1e" stroke-width="1.2"/>
<g fill="#2a2a2a" stroke="#2a2a2a" stroke-width="0.1"><text x="447.38" y="545.60" font-size="8.40" textLength="12.61" lengthAdjust="spacingAndGlyphs" xml:space="preserve" style="">700</text></g>
<line x1="470.46" y1="533.60" x2="470.46" y2="536.40" stroke="#1e1e1e" stroke-width="1.2"/>
<g fill="#2a2a2a" stroke="#2a2a2a" stroke-width="0.1"><text x="464.15" y="545.60" font-size="8.40" textLength="12.61" lengthAdjust="spacingAndGlyphs" xml:space="preserve" style="">800</text></g>
<line x1="487.23" y1="533.60" x2="487.23" y2="536.40" stroke="#1e1e1e" stroke-width="1.2"/>
<g fill="#2a2a2a" stroke="#2a2a2a" stroke-width="0.1"><text x="480.92" y="545.60" font-size="8.40" textLength="12.61" lengthAdjust="spacingAndGlyphs" xml:space="preserve" style="">900</text></g>
<line x1="504.00" y1="533.60" x2="504.00" y2="536.40" stroke="#1e1e1e" stroke-width="1.2"/>
<g fill="#2a2a2a" stroke="#2a2a2a" stroke-width="0.1"><text x="496.12" y="545.60" font-size="8.40" textLength="3.15" lengthAdjust="spacingAndGlyphs" xml:space="preserve" style="">1</text><text x="499.27" y="545.60" font-size="8.40" textLength="12.61" lengthAdjust="spacingAndGlyphs" xml:space="preserve" style="">000</text></g>
<g fill="#000" stroke="#000" stroke-width="0.15" font-weight="bold"><text x="271.00" y="435.00" font-size="11.50" textLength="7.02" lengthAdjust="spacingAndGlyphs" xml:space="preserve" style="">F</text></g>
<g fill="#2a2a2a" stroke="#2a2a2a" stroke-width="0.15" transform="translate(302.80,485.10) rotate(-90)"><text x="-40.10" y="0.00" font-size="10.40" textLength="80.20" lengthAdjust="spacingAndGlyphs" xml:space="preserve">Probability of leukemia-</text></g>
<g fill="#2a2a2a" stroke="#2a2a2a" stroke-width="0.15" transform="translate(313.60,484.40) rotate(-90)"><text x="-26.40" y="0.00" font-size="10.40" textLength="52.80" lengthAdjust="spacingAndGlyphs" xml:space="preserve">free survival (%)</text></g>
<g fill="#2a2a2a" stroke="#2a2a2a" stroke-width="0.2"><text x="370.40" y="558.70" font-size="9.00" textLength="104.40" lengthAdjust="spacingAndGlyphs" xml:space="preserve" style="">Post-transplantation time (days)</text></g>
<path d="M336.20,442.80 L344.40,442.80 L344.40,445.80 L356.50,450.00 L375.50,454.40 L384.20,454.40 L384.20,458.80 L392.00,458.80 L392.00,460.50 L407.50,460.50 L407.50,467.80 L470.50,467.80 L470.50,467.80 L470.50,498.60 L470.50,498.60 L407.50,498.60 L407.50,494.20 L400.60,494.20 L400.60,490.80 L392.00,490.80 L392.00,488.20 L384.20,488.20 L384.20,481.30 L375.50,481.30 L375.50,475.20 L362.50,475.20 L362.50,471.70 L356.50,471.70 L356.50,462.20 L350.40,462.20 L350.40,460.50 L344.40,460.50 L344.40,442.80 L336.20,442.80 Z" fill="#edc4ca" stroke="none"/>
<path d="M336.20,442.80 L351.30,444.90 L379.00,449.80 L424.00,451.50 L482.30,451.50 L482.30,452.20 L482.30,459.60 L482.30,459.60 L433.00,459.60 L433.00,456.70 L424.00,456.70 L379.00,453.20 L351.30,448.00 L336.20,442.80 Z" fill="#c8d8e5" stroke="none"/>
<path d="M336.20,442.80 H342.90 V442.80 L347.50,444.90 L356.80,446.30 L369.40,447.80 L377.50,449.50 L396.00,452.40 L412.00,453.90 H425.20 V454.10 H433.00 V455.30 H482.30 V455.30" fill="none" stroke="#124b80" stroke-width="1.5" stroke-linejoin="miter"/>
<path d="M336.20,442.80 H348.70 V442.80 L349.80,448.40 H356.20 V448.40 L359.10,455.30 L363.10,459.30 H375.80 V462.20 H377.50 V465.10 H383.50 V470.70 H392.30 V473.80 H400.60 V476.00 H407.50 V480.90 H470.50 V480.90" fill="none" stroke="#c5112f" stroke-width="1.5" stroke-linejoin="miter"/>
<g fill="#2a2a2a" stroke="#2a2a2a" stroke-width="0.08"><text x="342.60" y="508.70" font-size="6.40" textLength="26.46" lengthAdjust="spacingAndGlyphs" xml:space="preserve" style="">Log-rank </text><text x="369.06" y="508.70" font-size="6.40" textLength="4.18" lengthAdjust="spacingAndGlyphs" xml:space="preserve" style="font-style:italic;">P</text><text x="373.24" y="508.70" font-size="6.40" textLength="15.85" lengthAdjust="spacingAndGlyphs" xml:space="preserve" style="">&lt;0.00</text><text x="389.09" y="508.70" font-size="6.40" textLength="2.61" lengthAdjust="spacingAndGlyphs" xml:space="preserve" style="">1</text></g>
<line x1="342.60" y1="519.80" x2="352.40" y2="519.80" stroke="#124b80" stroke-width="1.6"/>
<g fill="#2a2a2a" stroke="#2a2a2a" stroke-width="0.08"><text x="354.10" y="521.30" font-size="6.40" textLength="76.10" lengthAdjust="spacingAndGlyphs" xml:space="preserve" style="">Traditional MRD negativity</text></g>
<line x1="342.60" y1="528.60" x2="352.40" y2="528.60" stroke="#c5112f" stroke-width="1.6"/>
<g fill="#2a2a2a" stroke="#2a2a2a" stroke-width="0.08"><text x="354.10" y="530.60" font-size="6.40" textLength="73.20" lengthAdjust="spacingAndGlyphs" xml:space="preserve" style="">Traditional MRD positivity</text></g>
<g fill="#2a2a2a" stroke="#2a2a2a" stroke-width="0.1"><text x="291.10" y="572.70" font-size="6.40" textLength="35.90" lengthAdjust="spacingAndGlyphs" xml:space="preserve" style="">Number at risk</text></g>
<g fill="#2a2a2a" stroke="#2a2a2a" stroke-width="0.1"><text x="280.50" y="581.20" font-size="6.40" textLength="46.50" lengthAdjust="spacingAndGlyphs" xml:space="preserve" style="">(number censored)</text></g>
<g fill="#2a2a2a" stroke="#2a2a2a" stroke-width="0.1"><text x="268.00" y="591.30" font-size="6.40" textLength="58.80" lengthAdjust="spacingAndGlyphs" xml:space="preserve" style="">Traditional MRD negativity</text></g>
<g fill="#2a2a2a" stroke="#2a2a2a" stroke-width="0.1"><text x="269.50" y="609.00" font-size="6.40" textLength="57.30" lengthAdjust="spacingAndGlyphs" xml:space="preserve" style="">Traditional MRD positivity</text></g>
<g fill="#2a2a2a" stroke="#2a2a2a" stroke-width="0.1"><text x="331.76" y="588.20" font-size="6.40" textLength="9.08" lengthAdjust="spacingAndGlyphs" xml:space="preserve" style="">327</text></g>
<g fill="#2a2a2a" stroke="#2a2a2a" stroke-width="0.1"><text x="348.91" y="588.20" font-size="6.40" textLength="3.03" lengthAdjust="spacingAndGlyphs" xml:space="preserve" style="">3</text><text x="351.94" y="588.20" font-size="6.40" textLength="2.27" lengthAdjust="spacingAndGlyphs" xml:space="preserve" style="">1</text><text x="354.20" y="588.20" font-size="6.40" textLength="3.03" lengthAdjust="spacingAndGlyphs" xml:space="preserve" style="">2</text></g>
<g fill="#2a2a2a" stroke="#2a2a2a" stroke-width="0.1"><text x="365.30" y="588.20" font-size="6.40" textLength="9.08" lengthAdjust="spacingAndGlyphs" xml:space="preserve" style="">299</text></g>
<g fill="#2a2a2a" stroke="#2a2a2a" stroke-width="0.1"><text x="382.07" y="588.20" font-size="6.40" textLength="9.08" lengthAdjust="spacingAndGlyphs" xml:space="preserve" style="">280</text></g>
<g fill="#2a2a2a" stroke="#2a2a2a" stroke-width="0.1"><text x="399.22" y="588.20" font-size="6.40" textLength="6.05" lengthAdjust="spacingAndGlyphs" xml:space="preserve" style="">23</text><text x="405.27" y="588.20" font-size="6.40" textLength="2.27" lengthAdjust="spacingAndGlyphs" xml:space="preserve" style="">1</text></g>
<g fill="#2a2a2a" stroke="#2a2a2a" stroke-width="0.1"><text x="415.99" y="588.20" font-size="6.40" textLength="2.27" lengthAdjust="spacingAndGlyphs" xml:space="preserve" style="">1</text><text x="418.26" y="588.20" font-size="6.40" textLength="6.05" lengthAdjust="spacingAndGlyphs" xml:space="preserve" style="">68</text></g>
<g fill="#2a2a2a" stroke="#2a2a2a" stroke-width="0.1"><text x="432.76" y="588.20" font-size="6.40" textLength="2.27" lengthAdjust="spacingAndGlyphs" xml:space="preserve" style="">1</text><text x="435.03" y="588.20" font-size="6.40" textLength="6.05" lengthAdjust="spacingAndGlyphs" xml:space="preserve" style="">00</text></g>
<g fill="#2a2a2a" stroke="#2a2a2a" stroke-width="0.1"><text x="450.66" y="588.20" font-size="6.40" textLength="6.05" lengthAdjust="spacingAndGlyphs" xml:space="preserve" style="">59</text></g>
<g fill="#2a2a2a" stroke="#2a2a2a" stroke-width="0.1"><text x="467.81" y="588.20" font-size="6.40" textLength="2.27" lengthAdjust="spacingAndGlyphs" xml:space="preserve" style="">1</text><text x="470.08" y="588.20" font-size="6.40" textLength="3.03" lengthAdjust="spacingAndGlyphs" xml:space="preserve" style="">3</text></g>
<g fill="#2a2a2a" stroke="#2a2a2a" stroke-width="0.1"><text x="485.72" y="588.20" font-size="6.40" textLength="3.03" lengthAdjust="spacingAndGlyphs" xml:space="preserve" style="">0</text></g>
<g fill="#2a2a2a" stroke="#2a2a2a" stroke-width="0.1"><text x="502.49" y="588.20" font-size="6.40" textLength="3.03" lengthAdjust="spacingAndGlyphs" xml:space="preserve" style="">0</text></g>
<g fill="#2a2a2a" stroke="#2a2a2a" stroke-width="0.1"><text x="332.98" y="595.60" font-size="6.40" textLength="6.65" lengthAdjust="spacingAndGlyphs" xml:space="preserve" style="">(0)</text></g>
<g fill="#2a2a2a" stroke="#2a2a2a" stroke-width="0.1"><text x="349.75" y="595.60" font-size="6.40" textLength="6.65" lengthAdjust="spacingAndGlyphs" xml:space="preserve" style="">(0)</text></g>
<g fill="#2a2a2a" stroke="#2a2a2a" stroke-width="0.1"><text x="366.52" y="595.60" font-size="6.40" textLength="6.65" lengthAdjust="spacingAndGlyphs" xml:space="preserve" style="">(4)</text></g>
<g fill="#2a2a2a" stroke="#2a2a2a" stroke-width="0.1"><text x="382.15" y="595.60" font-size="6.40" textLength="1.81" lengthAdjust="spacingAndGlyphs" xml:space="preserve" style="">(</text><text x="383.96" y="595.60" font-size="6.40" textLength="2.27" lengthAdjust="spacingAndGlyphs" xml:space="preserve" style="">1</text><text x="386.23" y="595.60" font-size="6.40" textLength="4.84" lengthAdjust="spacingAndGlyphs" xml:space="preserve" style="">6)</text></g>
<g fill="#2a2a2a" stroke="#2a2a2a" stroke-width="0.1"><text x="398.54" y="595.60" font-size="6.40" textLength="9.67" lengthAdjust="spacingAndGlyphs" xml:space="preserve" style="">(62)</text></g>
<g fill="#2a2a2a" stroke="#2a2a2a" stroke-width="0.1"><text x="414.18" y="595.60" font-size="6.40" textLength="1.81" lengthAdjust="spacingAndGlyphs" xml:space="preserve" style="">(</text><text x="415.99" y="595.60" font-size="6.40" textLength="2.27" lengthAdjust="spacingAndGlyphs" xml:space="preserve" style="">1</text><text x="418.26" y="595.60" font-size="6.40" textLength="7.86" lengthAdjust="spacingAndGlyphs" xml:space="preserve" style="">23)</text></g>
<g fill="#2a2a2a" stroke="#2a2a2a" stroke-width="0.1"><text x="430.95" y="595.60" font-size="6.40" textLength="1.81" lengthAdjust="spacingAndGlyphs" xml:space="preserve" style="">(</text><text x="432.76" y="595.60" font-size="6.40" textLength="2.27" lengthAdjust="spacingAndGlyphs" xml:space="preserve" style="">1</text><text x="435.03" y="595.60" font-size="6.40" textLength="7.86" lengthAdjust="spacingAndGlyphs" xml:space="preserve" style="">87)</text></g>
<g fill="#2a2a2a" stroke="#2a2a2a" stroke-width="0.1"><text x="447.34" y="595.60" font-size="6.40" textLength="12.70" lengthAdjust="spacingAndGlyphs" xml:space="preserve" style="">(228)</text></g>
<g fill="#2a2a2a" stroke="#2a2a2a" stroke-width="0.1"><text x="464.11" y="595.60" font-size="6.40" textLength="12.70" lengthAdjust="spacingAndGlyphs" xml:space="preserve" style="">(274)</text></g>
<g fill="#2a2a2a" stroke="#2a2a2a" stroke-width="0.1"><text x="480.88" y="595.60" font-size="6.40" textLength="12.70" lengthAdjust="spacingAndGlyphs" xml:space="preserve" style="">(287)</text></g>
<g fill="#2a2a2a" stroke="#2a2a2a" stroke-width="0.1"><text x="497.65" y="595.60" font-size="6.40" textLength="12.70" lengthAdjust="spacingAndGlyphs" xml:space="preserve" style="">(287)</text></g>
<g fill="#2a2a2a" stroke="#2a2a2a" stroke-width="0.1"><text x="333.27" y="606.00" font-size="6.40" textLength="6.05" lengthAdjust="spacingAndGlyphs" xml:space="preserve" style="">33</text></g>
<g fill="#2a2a2a" stroke="#2a2a2a" stroke-width="0.1"><text x="350.42" y="606.00" font-size="6.40" textLength="3.03" lengthAdjust="spacingAndGlyphs" xml:space="preserve" style="">3</text><text x="353.45" y="606.00" font-size="6.40" textLength="2.27" lengthAdjust="spacingAndGlyphs" xml:space="preserve" style="">1</text></g>
<g fill="#2a2a2a" stroke="#2a2a2a" stroke-width="0.1"><text x="366.81" y="606.00" font-size="6.40" textLength="6.05" lengthAdjust="spacingAndGlyphs" xml:space="preserve" style="">27</text></g>
<g fill="#2a2a2a" stroke="#2a2a2a" stroke-width="0.1"><text x="383.96" y="606.00" font-size="6.40" textLength="3.03" lengthAdjust="spacingAndGlyphs" xml:space="preserve" style="">2</text><text x="386.99" y="606.00" font-size="6.40" textLength="2.27" lengthAdjust="spacingAndGlyphs" xml:space="preserve" style="">1</text></g>
<g fill="#2a2a2a" stroke="#2a2a2a" stroke-width="0.1"><text x="400.73" y="606.00" font-size="6.40" textLength="2.27" lengthAdjust="spacingAndGlyphs" xml:space="preserve" style="">1</text><text x="403.00" y="606.00" font-size="6.40" textLength="3.03" lengthAdjust="spacingAndGlyphs" xml:space="preserve" style="">8</text></g>
<g fill="#2a2a2a" stroke="#2a2a2a" stroke-width="0.1"><text x="417.50" y="606.00" font-size="6.40" textLength="2.27" lengthAdjust="spacingAndGlyphs" xml:space="preserve" style="">1</text><text x="419.77" y="606.00" font-size="6.40" textLength="3.03" lengthAdjust="spacingAndGlyphs" xml:space="preserve" style="">2</text></g>
<g fill="#2a2a2a" stroke="#2a2a2a" stroke-width="0.1"><text x="435.41" y="606.00" font-size="6.40" textLength="3.03" lengthAdjust="spacingAndGlyphs" xml:space="preserve" style="">7</text></g>
<g fill="#2a2a2a" stroke="#2a2a2a" stroke-width="0.1"><text x="452.18" y="606.00" font-size="6.40" textLength="3.03" lengthAdjust="spacingAndGlyphs" xml:space="preserve" style="">4</text></g>
<g fill="#2a2a2a" stroke="#2a2a2a" stroke-width="0.1"><text x="469.33" y="606.00" font-size="6.40" textLength="2.27" lengthAdjust="spacingAndGlyphs" xml:space="preserve" style="">1</text></g>
<g fill="#2a2a2a" stroke="#2a2a2a" stroke-width="0.1"><text x="485.72" y="606.00" font-size="6.40" textLength="3.03" lengthAdjust="spacingAndGlyphs" xml:space="preserve" style="">0</text></g>
<g fill="#2a2a2a" stroke="#2a2a2a" stroke-width="0.1"><text x="502.49" y="606.00" font-size="6.40" textLength="3.03" lengthAdjust="spacingAndGlyphs" xml:space="preserve" style="">0</text></g>
<g fill="#2a2a2a" stroke="#2a2a2a" stroke-width="0.1"><text x="332.98" y="613.90" font-size="6.40" textLength="6.65" lengthAdjust="spacingAndGlyphs" xml:space="preserve" style="">(0)</text></g>
<g fill="#2a2a2a" stroke="#2a2a2a" stroke-width="0.1"><text x="349.75" y="613.90" font-size="6.40" textLength="6.65" lengthAdjust="spacingAndGlyphs" xml:space="preserve" style="">(0)</text></g>
<g fill="#2a2a2a" stroke="#2a2a2a" stroke-width="0.1"><text x="366.52" y="613.90" font-size="6.40" textLength="6.65" lengthAdjust="spacingAndGlyphs" xml:space="preserve" style="">(0)</text></g>
<g fill="#2a2a2a" stroke="#2a2a2a" stroke-width="0.1"><text x="383.29" y="613.90" font-size="6.40" textLength="6.65" lengthAdjust="spacingAndGlyphs" xml:space="preserve" style="">(2)</text></g>
<g fill="#2a2a2a" stroke="#2a2a2a" stroke-width="0.1"><text x="400.06" y="613.90" font-size="6.40" textLength="6.65" lengthAdjust="spacingAndGlyphs" xml:space="preserve" style="">(3)</text></g>
<g fill="#2a2a2a" stroke="#2a2a2a" stroke-width="0.1"><text x="416.83" y="613.90" font-size="6.40" textLength="6.65" lengthAdjust="spacingAndGlyphs" xml:space="preserve" style="">(8)</text></g>
<g fill="#2a2a2a" stroke="#2a2a2a" stroke-width="0.1"><text x="432.46" y="613.90" font-size="6.40" textLength="1.81" lengthAdjust="spacingAndGlyphs" xml:space="preserve" style="">(</text><text x="434.27" y="613.90" font-size="6.40" textLength="2.27" lengthAdjust="spacingAndGlyphs" xml:space="preserve" style="">1</text><text x="436.54" y="613.90" font-size="6.40" textLength="4.84" lengthAdjust="spacingAndGlyphs" xml:space="preserve" style="">3)</text></g>
<g fill="#2a2a2a" stroke="#2a2a2a" stroke-width="0.1"><text x="449.23" y="613.90" font-size="6.40" textLength="1.81" lengthAdjust="spacingAndGlyphs" xml:space="preserve" style="">(</text><text x="451.04" y="613.90" font-size="6.40" textLength="2.27" lengthAdjust="spacingAndGlyphs" xml:space="preserve" style="">1</text><text x="453.31" y="613.90" font-size="6.40" textLength="4.84" lengthAdjust="spacingAndGlyphs" xml:space="preserve" style="">6)</text></g>
<g fill="#2a2a2a" stroke="#2a2a2a" stroke-width="0.1"><text x="466.00" y="613.90" font-size="6.40" textLength="1.81" lengthAdjust="spacingAndGlyphs" xml:space="preserve" style="">(</text><text x="467.81" y="613.90" font-size="6.40" textLength="2.27" lengthAdjust="spacingAndGlyphs" xml:space="preserve" style="">1</text><text x="470.08" y="613.90" font-size="6.40" textLength="4.84" lengthAdjust="spacingAndGlyphs" xml:space="preserve" style="">9)</text></g>
<g fill="#2a2a2a" stroke="#2a2a2a" stroke-width="0.1"><text x="482.39" y="613.90" font-size="6.40" textLength="9.67" lengthAdjust="spacingAndGlyphs" xml:space="preserve" style="">(20)</text></g>
<g fill="#2a2a2a" stroke="#2a2a2a" stroke-width="0.1"><text x="499.16" y="613.90" font-size="6.40" textLength="9.67" lengthAdjust="spacingAndGlyphs" xml:space="preserve" style="">(20)</text></g>
<rect x="0" y="0" width="520" height="1.15" fill="#000"/>
<rect x="0" y="0" width="1.15" height="623" fill="#000"/>
<rect x="518.85" y="0" width="1.15" height="623" fill="#000"/>
<rect x="0" y="621.7" width="520" height="1.3" fill="#000"/>
</svg></body></html>
